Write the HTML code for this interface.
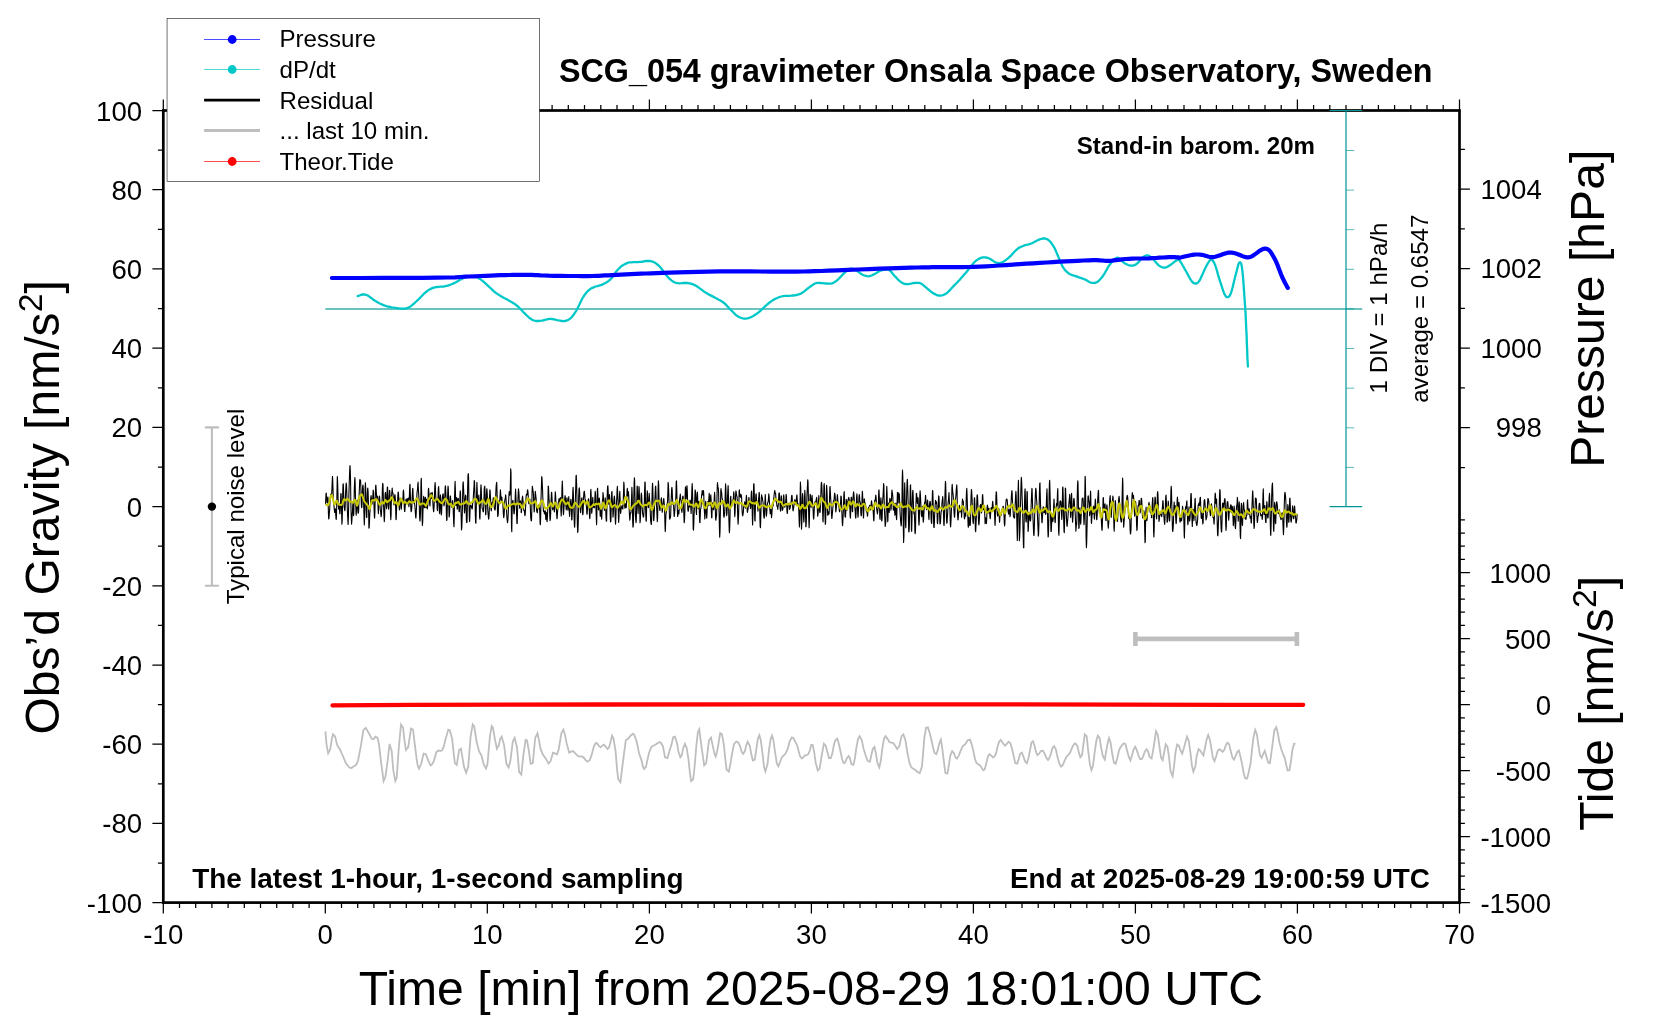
<!DOCTYPE html>
<html lang="en"><head><meta charset="utf-8"><title>SCG_054 gravimeter Onsala Space Observatory</title>
<style>html,body{margin:0;padding:0;background:#fff}svg{display:block;will-change:transform}text{font-family:"Liberation Sans",Arial,Helvetica,sans-serif;fill:#000}</style></head><body>
<svg width="1660" height="1020" viewBox="0 0 1660 1020">
<rect width="1660" height="1020" fill="#fff"/>
<rect x="163.3" y="110.5" width="1296.2" height="792.1" fill="none" stroke="#000" stroke-width="2.7"/>
<path d="M163.3 902.6v10.9M163.3 110.5v-10.9M179.5 902.6v5.4M179.5 110.5v-5.4M195.7 902.6v5.4M195.7 110.5v-5.4M211.9 902.6v5.4M211.9 110.5v-5.4M228.1 902.6v5.4M228.1 110.5v-5.4M244.3 902.6v5.4M244.3 110.5v-5.4M260.5 902.6v5.4M260.5 110.5v-5.4M276.7 902.6v5.4M276.7 110.5v-5.4M292.9 902.6v5.4M292.9 110.5v-5.4M309.1 902.6v5.4M309.1 110.5v-5.4M325.3 902.6v10.9M325.3 110.5v-10.9M341.5 902.6v5.4M341.5 110.5v-5.4M357.7 902.6v5.4M357.7 110.5v-5.4M373.9 902.6v5.4M373.9 110.5v-5.4M390.1 902.6v5.4M390.1 110.5v-5.4M406.3 902.6v5.4M406.3 110.5v-5.4M422.5 902.6v5.4M422.5 110.5v-5.4M438.7 902.6v5.4M438.7 110.5v-5.4M454.9 902.6v5.4M454.9 110.5v-5.4M471.1 902.6v5.4M471.1 110.5v-5.4M487.3 902.6v10.9M487.3 110.5v-10.9M503.5 902.6v5.4M503.5 110.5v-5.4M519.7 902.6v5.4M519.7 110.5v-5.4M535.9 902.6v5.4M535.9 110.5v-5.4M552.1 902.6v5.4M552.1 110.5v-5.4M568.3 902.6v5.4M568.3 110.5v-5.4M584.5 902.6v5.4M584.5 110.5v-5.4M600.8 902.6v5.4M600.8 110.5v-5.4M617.0 902.6v5.4M617.0 110.5v-5.4M633.2 902.6v5.4M633.2 110.5v-5.4M649.4 902.6v10.9M649.4 110.5v-10.9M665.6 902.6v5.4M665.6 110.5v-5.4M681.8 902.6v5.4M681.8 110.5v-5.4M698.0 902.6v5.4M698.0 110.5v-5.4M714.2 902.6v5.4M714.2 110.5v-5.4M730.4 902.6v5.4M730.4 110.5v-5.4M746.6 902.6v5.4M746.6 110.5v-5.4M762.8 902.6v5.4M762.8 110.5v-5.4M779.0 902.6v5.4M779.0 110.5v-5.4M795.2 902.6v5.4M795.2 110.5v-5.4M811.4 902.6v10.9M811.4 110.5v-10.9M827.6 902.6v5.4M827.6 110.5v-5.4M843.8 902.6v5.4M843.8 110.5v-5.4M860.0 902.6v5.4M860.0 110.5v-5.4M876.2 902.6v5.4M876.2 110.5v-5.4M892.4 902.6v5.4M892.4 110.5v-5.4M908.6 902.6v5.4M908.6 110.5v-5.4M924.8 902.6v5.4M924.8 110.5v-5.4M941.0 902.6v5.4M941.0 110.5v-5.4M957.2 902.6v5.4M957.2 110.5v-5.4M973.4 902.6v10.9M973.4 110.5v-10.9M989.6 902.6v5.4M989.6 110.5v-5.4M1005.8 902.6v5.4M1005.8 110.5v-5.4M1022.0 902.6v5.4M1022.0 110.5v-5.4M1038.2 902.6v5.4M1038.2 110.5v-5.4M1054.4 902.6v5.4M1054.4 110.5v-5.4M1070.6 902.6v5.4M1070.6 110.5v-5.4M1086.8 902.6v5.4M1086.8 110.5v-5.4M1103.0 902.6v5.4M1103.0 110.5v-5.4M1119.2 902.6v5.4M1119.2 110.5v-5.4M1135.4 902.6v10.9M1135.4 110.5v-10.9M1151.6 902.6v5.4M1151.6 110.5v-5.4M1167.8 902.6v5.4M1167.8 110.5v-5.4M1184.0 902.6v5.4M1184.0 110.5v-5.4M1200.2 902.6v5.4M1200.2 110.5v-5.4M1216.4 902.6v5.4M1216.4 110.5v-5.4M1232.6 902.6v5.4M1232.6 110.5v-5.4M1248.8 902.6v5.4M1248.8 110.5v-5.4M1265.0 902.6v5.4M1265.0 110.5v-5.4M1281.2 902.6v5.4M1281.2 110.5v-5.4M1297.4 902.6v10.9M1297.4 110.5v-10.9M1313.6 902.6v5.4M1313.6 110.5v-5.4M1329.8 902.6v5.4M1329.8 110.5v-5.4M1346.0 902.6v5.4M1346.0 110.5v-5.4M1362.2 902.6v5.4M1362.2 110.5v-5.4M1378.4 902.6v5.4M1378.4 110.5v-5.4M1394.6 902.6v5.4M1394.6 110.5v-5.4M1410.8 902.6v5.4M1410.8 110.5v-5.4M1427.0 902.6v5.4M1427.0 110.5v-5.4M1443.2 902.6v5.4M1443.2 110.5v-5.4M1459.5 902.6v10.9M1459.5 110.5v-10.9M163.3 902.6h-10.9M163.3 863.0h-5.4M163.3 823.4h-10.9M163.3 783.8h-5.4M163.3 744.2h-10.9M163.3 704.6h-5.4M163.3 665.0h-10.9M163.3 625.4h-5.4M163.3 585.8h-10.9M163.3 546.2h-5.4M163.3 506.6h-10.9M163.3 467.0h-5.4M163.3 427.4h-10.9M163.3 387.8h-5.4M163.3 348.1h-10.9M163.3 308.5h-5.4M163.3 268.9h-10.9M163.3 229.3h-5.4M163.3 189.7h-10.9M163.3 150.1h-5.4M163.3 110.5h-10.9M1459.5 467.5h5.4M1459.5 427.7h10.4M1459.5 387.9h5.4M1459.5 348.2h10.4M1459.5 308.4h5.4M1459.5 268.6h10.4M1459.5 228.8h5.4M1459.5 189.1h10.4M1459.5 149.3h5.4M1459.5 902.6h10.4M1459.5 889.4h5.4M1459.5 876.2h5.4M1459.5 863.0h5.4M1459.5 849.8h5.4M1459.5 836.6h10.4M1459.5 823.4h5.4M1459.5 810.2h5.4M1459.5 797.0h5.4M1459.5 783.8h5.4M1459.5 770.6h10.4M1459.5 757.4h5.4M1459.5 744.2h5.4M1459.5 731.0h5.4M1459.5 717.8h5.4M1459.5 704.6h10.4M1459.5 691.4h5.4M1459.5 678.2h5.4M1459.5 665.0h5.4M1459.5 651.8h5.4M1459.5 638.6h10.4M1459.5 625.4h5.4M1459.5 612.2h5.4M1459.5 599.0h5.4M1459.5 585.8h5.4M1459.5 572.6h10.4M1459.5 559.4h5.4M1459.5 546.2h5.4M1459.5 533.0h5.4M1459.5 519.8h5.4" stroke="#000" stroke-width="1.25" fill="none"/>
<g stroke="#009696" stroke-width="1.2" fill="none">
<path d="M325.3 309H1362.2" stroke-width="2" stroke="#69c3c3"/>
<path d="M1346 110.5V506.6M1329.6 110.5H1362.2M1329.6 506.6H1362.2"/>
<path d="M1346 467.4h8M1346 427.8h8M1346 388.2h8M1346 348.5h8M1346 308.9h8M1346 269.3h8M1346 229.7h8M1346 190.1h8M1346 150.5h8" stroke-width="0.65"/>
</g>
<path d="M357.7 296.1L358.4 295.9L359.3 295.5L360.5 295.1L361.6 294.7L362.7 294.5L363.6 294.5L364.5 294.5L365.4 294.7L366.5 295.0L367.7 295.5L369.0 296.4L370.5 297.5L372.1 298.7L373.8 300.0L375.6 301.1L377.5 302.2L379.4 303.2L381.5 304.2L383.5 305.1L385.5 305.9L387.6 306.5L389.6 306.9L391.6 307.3L393.6 307.6L395.5 307.9L397.2 308.1L398.9 308.4L400.5 308.6L402.0 308.7L403.4 308.7L404.7 308.6L405.9 308.4L407.0 308.2L408.1 307.7L409.4 307.1L410.9 306.1L412.4 304.9L414.1 303.5L415.7 302.0L417.3 300.5L419.0 298.9L420.6 297.2L422.3 295.5L423.8 293.9L425.3 292.6L426.6 291.5L427.8 290.6L429.0 289.8L430.1 289.2L431.3 288.6L432.4 288.1L433.6 287.7L434.7 287.5L435.9 287.2L437.2 287.0L438.7 286.8L440.3 286.7L441.9 286.6L443.6 286.5L445.2 286.2L446.8 285.8L448.4 285.4L450.0 284.9L451.5 284.3L453.1 283.6L454.8 282.8L456.4 281.9L458.0 280.9L459.6 280.0L461.1 279.2L462.4 278.6L463.6 278.0L464.7 277.4L465.8 277.0L467.0 276.7L468.4 276.4L469.8 276.2L471.2 276.0L472.6 276.1L474.0 276.3L475.4 276.6L476.7 277.2L478.1 277.8L479.5 278.7L481.0 279.6L482.5 280.8L484.1 282.2L485.7 283.6L487.3 285.1L488.9 286.6L490.4 288.0L491.9 289.4L493.4 290.8L495.0 292.2L496.9 293.6L499.1 295.0L501.5 296.4L504.1 297.9L506.6 299.2L508.8 300.5L510.6 301.6L512.3 302.5L513.8 303.4L515.2 304.3L516.7 305.5L518.4 306.9L520.0 308.6L521.7 310.3L523.2 312.0L524.7 313.4L526.0 314.7L527.2 315.9L528.4 317.0L529.5 318.0L530.7 318.8L531.8 319.5L533.0 320.1L534.1 320.5L535.3 320.8L536.6 321.0L538.1 321.0L539.8 320.8L541.4 320.6L543.1 320.3L544.6 320.0L545.9 319.7L547.0 319.4L548.1 319.1L549.3 318.9L550.5 318.8L552.0 319.0L553.7 319.3L555.4 319.7L557.0 320.1L558.5 320.4L559.8 320.6L561.0 320.9L562.2 321.0L563.3 321.1L564.5 321.0L565.7 320.8L566.8 320.4L568.0 320.0L569.2 319.3L570.4 318.4L571.6 317.2L572.8 315.8L574.0 314.2L575.2 312.4L576.4 310.5L577.6 308.3L578.8 305.8L580.0 303.2L581.2 300.7L582.3 298.5L583.5 296.6L584.7 294.8L585.9 293.2L587.1 291.8L588.3 290.6L589.5 289.6L590.6 288.8L591.7 288.1L593.0 287.6L594.3 287.0L595.7 286.5L597.3 286.1L599.0 285.7L600.6 285.2L602.2 284.6L603.9 283.8L605.5 282.9L607.1 282.0L608.7 280.9L610.2 279.6L611.5 278.2L612.7 276.6L613.9 274.9L615.0 273.2L616.1 271.7L617.3 270.3L618.5 269.0L619.7 267.8L620.9 266.7L622.1 265.7L623.4 264.9L624.7 264.2L626.0 263.6L627.1 263.1L628.1 262.7L628.6 262.5L628.7 262.4L628.8 262.4L629.2 262.4L630.0 262.3L631.5 262.3L633.5 262.2L635.7 262.1L638.0 262.1L639.9 261.9L641.7 261.8L643.4 261.5L644.9 261.2L646.5 261.0L647.9 261.0L649.2 261.0L650.4 261.1L651.6 261.3L652.7 261.7L653.9 262.1L655.0 262.8L656.2 263.6L657.4 264.5L658.6 265.5L659.8 266.7L661.0 268.1L662.2 269.7L663.4 271.5L664.6 273.2L665.8 274.7L667.0 276.0L668.2 277.4L669.4 278.6L670.6 279.7L671.7 280.6L672.9 281.4L673.9 282.0L675.0 282.5L676.3 282.9L677.7 283.2L679.5 283.3L681.5 283.2L683.6 283.0L685.7 282.9L687.7 283.0L689.3 283.3L690.9 283.6L692.4 284.1L693.9 284.8L695.6 285.6L697.5 286.7L699.4 288.1L701.5 289.7L703.5 291.2L705.5 292.6L707.6 293.7L709.6 294.9L711.6 295.9L713.6 296.9L715.5 297.9L717.2 298.8L718.8 299.7L720.3 300.5L721.9 301.4L723.4 302.5L725.1 303.9L726.7 305.6L728.3 307.3L729.9 309.0L731.4 310.5L732.7 311.8L733.9 313.0L735.0 314.1L736.1 315.1L737.3 316.0L738.7 316.8L740.1 317.5L741.5 318.0L742.9 318.4L744.3 318.6L745.7 318.6L747.0 318.4L748.4 318.1L749.8 317.6L751.3 317.0L752.8 316.2L754.4 315.3L756.0 314.2L757.6 313.1L759.2 311.8L760.8 310.5L762.4 309.0L764.0 307.4L765.6 305.9L767.2 304.5L768.8 303.2L770.3 302.0L771.9 300.9L773.5 299.8L775.1 298.9L776.7 298.2L778.2 297.5L779.7 297.0L781.4 296.5L783.1 296.1L785.0 295.9L787.0 295.8L789.1 295.8L791.1 295.7L793.0 295.5L794.7 295.3L796.3 295.0L797.9 294.7L799.4 294.2L801.0 293.6L802.6 292.6L804.2 291.4L805.8 290.1L807.4 288.7L808.9 287.6L810.4 286.5L811.8 285.5L813.1 284.6L814.5 283.8L815.9 283.2L817.2 282.9L818.6 282.9L820.0 283.0L821.4 283.1L822.8 283.2L824.4 283.3L826.0 283.5L827.7 283.7L829.3 283.7L830.8 283.6L832.1 283.3L833.2 282.9L834.3 282.3L835.5 281.6L836.7 280.6L838.2 279.3L839.9 277.6L841.6 275.8L843.2 274.1L844.7 272.7L846.0 271.5L847.2 270.5L848.4 269.7L849.5 269.1L850.7 268.7L851.9 268.7L853.0 269.0L854.2 269.5L855.4 270.1L856.6 270.7L857.8 271.4L859.0 272.3L860.2 273.2L861.4 274.0L862.6 274.7L863.8 275.2L865.0 275.7L866.2 276.0L867.4 276.2L868.6 276.3L869.7 276.1L870.9 275.7L872.1 275.2L873.3 274.6L874.5 274.1L875.7 273.4L876.8 272.7L878.0 271.9L879.2 271.2L880.5 270.7L882.0 270.2L883.6 269.8L885.3 269.5L886.9 269.4L888.4 269.7L889.8 270.4L891.0 271.6L892.1 272.9L893.2 274.4L894.4 275.7L895.6 276.9L896.8 278.2L898.0 279.5L899.2 280.7L900.4 281.6L901.5 282.4L902.7 283.1L903.8 283.6L905.0 284.0L906.3 284.2L907.8 284.2L909.5 283.9L911.1 283.6L912.8 283.2L914.3 283.0L915.6 282.9L916.8 282.8L918.0 282.8L919.1 282.9L920.2 283.2L921.4 283.8L922.6 284.6L923.8 285.6L925.0 286.6L926.2 287.6L927.4 288.6L928.5 289.6L929.7 290.7L930.9 291.7L932.2 292.6L933.5 293.4L934.9 294.1L936.3 294.8L937.7 295.3L939.1 295.5L940.5 295.6L941.9 295.4L943.2 295.0L944.6 294.4L946.1 293.6L947.7 292.3L949.4 290.6L951.1 288.8L952.7 287.0L954.0 285.6L955.0 284.6L955.7 284.0L956.3 283.4L957.0 282.7L958.0 281.6L959.3 280.2L960.8 278.5L962.5 276.6L964.2 274.6L965.9 272.7L967.5 270.7L969.2 268.5L970.8 266.4L972.4 264.4L973.9 262.7L975.2 261.5L976.4 260.4L977.6 259.6L978.7 258.9L979.8 258.4L980.9 257.9L981.9 257.6L982.8 257.4L983.8 257.4L984.8 257.4L985.8 257.5L986.7 257.6L987.6 257.9L988.6 258.3L989.8 258.8L991.0 259.5L992.4 260.4L993.9 261.4L995.4 262.2L996.7 262.7L998.0 263.0L999.1 263.1L1000.3 262.9L1001.4 262.6L1002.7 262.1L1004.0 261.4L1005.3 260.5L1006.7 259.3L1008.2 258.1L1009.6 256.8L1011.2 255.3L1012.8 253.6L1014.4 251.8L1016.0 250.2L1017.6 248.8L1019.0 247.8L1020.4 247.1L1021.8 246.5L1023.2 246.0L1024.5 245.4L1025.9 245.0L1027.3 244.6L1028.7 244.3L1030.1 243.9L1031.5 243.5L1032.9 242.8L1034.3 242.0L1035.8 241.2L1037.1 240.5L1038.5 239.9L1039.7 239.4L1041.0 239.0L1042.2 238.7L1043.3 238.5L1044.4 238.5L1045.5 238.7L1046.5 239.0L1047.5 239.4L1048.4 240.0L1049.4 240.9L1050.4 241.9L1051.4 243.2L1052.5 244.7L1053.4 246.2L1054.4 247.8L1055.2 249.5L1056.0 251.2L1056.7 253.0L1057.5 254.8L1058.3 256.8L1059.3 258.9L1060.2 261.2L1061.2 263.6L1062.2 265.8L1063.3 267.7L1064.4 269.3L1065.5 270.6L1066.7 271.7L1067.9 272.8L1069.3 273.7L1070.7 274.5L1072.3 275.1L1074.0 275.6L1075.6 276.1L1077.2 276.7L1078.9 277.3L1080.5 277.8L1082.1 278.4L1083.7 279.0L1085.2 279.6L1086.5 280.3L1087.7 281.0L1088.9 281.7L1090.0 282.3L1091.1 282.6L1092.3 282.8L1093.5 282.9L1094.7 282.8L1095.9 282.6L1097.1 282.0L1098.3 281.2L1099.5 280.1L1100.7 278.7L1101.9 277.3L1103.1 275.7L1104.3 273.9L1105.5 271.8L1106.7 269.7L1107.8 267.6L1109.0 265.7L1110.3 264.0L1111.5 262.4L1112.8 260.9L1113.9 259.7L1115.0 258.8L1115.9 258.2L1116.7 257.8L1117.4 257.7L1118.1 257.9L1119.0 258.2L1119.9 258.8L1120.8 259.7L1121.8 260.8L1122.8 261.8L1123.9 262.7L1125.2 263.5L1126.6 264.3L1128.1 265.0L1129.5 265.5L1130.9 265.7L1132.2 265.7L1133.4 265.5L1134.5 265.1L1135.7 264.5L1136.9 263.7L1138.1 262.7L1139.3 261.3L1140.5 259.8L1141.7 258.4L1142.8 257.4L1143.9 256.6L1144.9 256.0L1145.9 255.6L1146.8 255.4L1147.8 255.4L1148.8 255.7L1149.7 256.2L1150.7 256.9L1151.7 257.8L1152.8 258.8L1153.9 259.9L1155.1 261.4L1156.3 262.8L1157.5 264.2L1158.7 265.3L1159.9 266.2L1161.1 266.8L1162.3 267.3L1163.5 267.6L1164.7 267.7L1165.9 267.5L1167.1 267.0L1168.3 266.3L1169.5 265.5L1170.7 264.7L1171.9 263.9L1173.2 262.8L1174.4 261.8L1175.6 260.9L1176.6 260.4L1177.4 260.0L1178.0 259.8L1178.6 259.8L1179.2 260.2L1180.0 261.1L1181.1 262.6L1182.3 264.7L1183.7 267.1L1185.0 269.5L1186.3 271.8L1187.4 273.8L1188.6 276.0L1189.7 278.0L1190.8 279.8L1191.8 281.2L1192.6 282.2L1193.4 282.9L1194.2 283.3L1194.9 283.5L1195.7 283.5L1196.4 283.4L1197.2 283.1L1197.9 282.5L1198.7 281.7L1199.6 280.4L1200.6 278.5L1201.7 276.1L1202.9 273.5L1204.0 270.9L1205.1 268.6L1206.1 266.6L1207.1 264.7L1208.1 263.0L1209.0 261.5L1209.8 260.5L1210.4 259.8L1210.9 259.4L1211.3 259.4L1211.7 259.6L1212.2 260.0L1212.7 260.5L1213.3 261.3L1213.9 262.3L1214.5 263.6L1215.3 265.5L1216.1 268.0L1217.1 271.1L1218.0 274.6L1219.0 278.0L1220.0 281.2L1221.0 284.2L1222.0 287.2L1222.9 290.0L1223.9 292.6L1224.7 294.5L1225.4 295.8L1226.1 296.7L1226.7 297.1L1227.2 297.2L1227.8 297.2L1228.5 296.9L1229.1 296.5L1229.7 295.7L1230.3 294.6L1231.0 292.9L1231.7 290.6L1232.5 287.7L1233.3 284.4L1234.1 281.1L1234.9 278.0L1235.6 275.1L1236.4 272.1L1237.1 269.2L1237.8 266.6L1238.3 264.7L1238.8 263.4L1239.2 262.7L1239.5 262.4L1239.8 262.3L1240.1 262.3L1240.4 262.5L1240.7 262.8L1241.0 263.3L1241.3 264.2L1241.6 265.5L1241.9 267.3L1242.2 269.6L1242.5 272.2L1242.8 275.1L1243.1 278.0L1243.3 281.2L1243.6 284.5L1243.8 288.0L1244.1 291.7L1244.3 295.3L1244.6 298.9L1244.8 302.5L1245.1 306.2L1245.3 310.0L1245.6 314.1L1245.8 318.6L1246.0 323.3L1246.2 328.2L1246.5 333.1L1246.7 337.6L1246.8 342.1L1247.0 346.6L1247.2 350.9L1247.3 354.7L1247.4 358.0L1247.6 360.6L1247.7 362.7L1247.8 364.4L1247.9 365.7L1247.9 366.6" fill="none" stroke="#00c8c8" stroke-width="2.3" stroke-linejoin="round" stroke-linecap="round"/>
<path d="M331.9 278.0L344.1 278.0L361.7 278.0L382.2 277.9L403.2 277.9L422.4 277.8L437.2 277.7L447.5 277.5L455.1 277.3L460.8 277.0L465.5 276.7L469.9 276.5L475.0 276.3L480.5 276.0L485.7 275.8L490.8 275.6L495.6 275.4L500.3 275.2L504.8 275.1L509.2 275.0L513.4 274.9L517.4 274.8L521.2 274.8L525.0 274.8L528.7 274.9L532.0 274.9L534.9 275.1L537.6 275.2L540.6 275.4L544.1 275.5L548.6 275.7L554.3 275.8L561.1 275.9L568.4 276.0L575.8 276.0L582.6 276.1L588.3 276.1L592.7 276.0L596.1 275.9L599.0 275.8L601.7 275.6L604.6 275.4L608.2 275.3L612.3 275.1L616.7 274.8L621.2 274.6L626.0 274.3L631.0 274.1L636.0 273.9L641.0 273.7L645.9 273.5L650.9 273.3L656.4 273.1L662.6 272.9L669.8 272.7L678.2 272.4L687.7 272.2L698.0 271.9L708.6 271.6L719.2 271.4L729.4 271.3L739.6 271.3L750.0 271.3L760.5 271.5L770.6 271.6L780.2 271.7L789.0 271.7L796.6 271.6L803.0 271.5L808.9 271.4L814.8 271.2L821.2 271.0L828.8 270.7L837.8 270.4L847.9 269.9L858.6 269.5L869.3 269.1L879.4 268.6L888.4 268.3L896.4 268.1L903.9 267.8L910.8 267.7L917.1 267.5L922.9 267.4L928.2 267.3L932.5 267.2L935.9 267.2L938.6 267.2L941.3 267.2L944.3 267.1L948.1 267.1L952.6 267.1L957.5 267.1L962.7 267.1L968.2 267.0L973.9 266.9L979.8 266.7L986.0 266.4L992.5 266.0L999.2 265.5L1006.0 265.1L1012.9 264.6L1019.6 264.1L1026.3 263.7L1033.1 263.3L1039.8 262.9L1046.5 262.5L1053.1 262.1L1059.3 261.7L1065.5 261.4L1071.7 261.1L1077.7 260.8L1083.4 260.5L1088.6 260.3L1093.1 260.2L1096.8 260.2L1099.6 260.3L1102.0 260.5L1104.1 260.7L1106.4 260.8L1109.0 260.8L1112.1 260.6L1115.4 260.2L1118.7 259.8L1122.1 259.4L1125.6 259.0L1128.9 258.8L1132.2 258.6L1135.5 258.5L1138.9 258.5L1142.2 258.5L1145.5 258.5L1148.8 258.4L1152.2 258.2L1155.8 258.0L1159.4 257.7L1162.8 257.5L1165.9 257.3L1168.7 257.2L1171.0 257.1L1173.0 257.1L1174.8 257.2L1176.3 257.3L1177.6 257.3L1178.6 257.4L1179.2 257.5L1179.3 257.6L1179.1 257.7L1179.0 257.8L1179.2 257.8L1180.0 257.6L1181.5 257.3L1183.5 256.8L1185.8 256.2L1188.2 255.7L1190.5 255.2L1192.5 254.8L1194.3 254.6L1195.9 254.5L1197.4 254.5L1198.8 254.5L1200.3 254.7L1202.0 254.8L1203.7 255.2L1205.4 255.7L1207.2 256.3L1209.0 256.8L1210.9 257.1L1212.9 257.2L1215.2 256.8L1217.6 256.1L1220.2 255.2L1222.7 254.3L1225.0 253.5L1227.1 252.9L1228.7 252.7L1230.0 252.6L1231.2 252.6L1232.3 252.7L1233.5 252.9L1234.9 253.3L1236.6 253.8L1238.5 254.5L1240.5 255.3L1242.4 256.1L1244.3 256.8L1245.9 257.2L1247.2 257.3L1248.3 257.3L1249.2 257.2L1250.1 257.0L1251.1 256.6L1252.1 256.1L1253.4 255.4L1254.8 254.4L1256.2 253.4L1257.6 252.3L1258.8 251.3L1260.0 250.6L1261.0 250.0L1261.8 249.6L1262.5 249.2L1263.2 248.9L1263.9 248.8L1264.7 248.7L1265.5 248.7L1266.2 248.7L1266.9 248.9L1267.7 249.2L1268.5 249.7L1269.4 250.6L1270.4 251.7L1271.4 253.2L1272.4 254.8L1273.5 256.7L1274.6 258.7L1275.7 260.8L1276.7 263.1L1277.8 265.8L1278.8 268.5L1279.9 271.3L1280.9 274.0L1281.9 276.5L1283.0 278.7L1284.1 281.0L1285.2 283.2L1286.3 285.1L1287.1 286.7L1287.8 287.9" fill="none" stroke="#0000ff" stroke-width="4.2" stroke-linejoin="round" stroke-linecap="round"/>
<path d="M325.5 504.2L325.7 500.5L326.0 493.8L326.3 493.1L326.5 497.2L326.8 500.3L327.1 502.6L327.3 501.0L327.6 497.8L327.9 497.0L328.2 501.9L328.4 513.0L328.7 519.0L329.0 518.3L329.2 515.1L329.5 511.4L329.8 507.0L330.0 501.3L330.3 498.2L330.6 494.7L330.9 494.2L331.1 496.9L331.4 495.6L331.7 493.6L331.9 489.9L332.2 481.8L332.5 476.3L332.7 479.3L333.0 488.9L333.3 498.9L333.6 503.8L333.8 504.6L334.1 506.9L334.4 510.5L334.6 512.4L334.9 512.3L335.2 509.7L335.4 508.7L335.7 513.7L336.0 519.0L336.3 519.3L336.5 514.4L336.8 502.0L337.1 485.1L337.3 476.5L337.6 481.3L337.9 491.1L338.1 499.9L338.4 506.4L338.7 509.2L339.0 505.4L339.2 503.7L339.5 509.6L339.8 513.8L340.0 513.6L340.3 508.8L340.6 500.1L340.8 493.6L341.1 493.7L341.4 503.6L341.7 516.8L341.9 524.2L342.2 520.5L342.5 507.8L342.7 493.7L343.0 484.3L343.3 483.9L343.5 489.1L343.8 498.0L344.1 506.4L344.4 508.3L344.6 509.6L344.9 510.8L345.2 506.3L345.4 498.2L345.7 491.0L346.0 485.8L346.2 483.0L346.5 484.8L346.8 492.8L347.1 502.1L347.3 509.0L347.6 515.3L347.9 522.0L348.1 524.5L348.4 517.0L348.7 504.2L348.9 494.3L349.2 485.0L349.5 475.2L349.8 467.6L350.0 465.6L350.3 470.6L350.6 482.5L350.8 500.1L351.1 512.9L351.4 520.5L351.6 524.3L351.9 520.4L352.2 514.9L352.5 511.0L352.7 506.0L353.0 502.1L353.3 506.7L353.5 515.7L353.8 513.8L354.1 500.1L354.3 488.4L354.6 481.1L354.9 477.5L355.2 483.7L355.4 494.1L355.7 503.8L356.0 513.1L356.2 515.2L356.5 510.0L356.8 506.2L357.0 502.6L357.3 500.0L357.6 505.3L357.9 512.0L358.1 513.2L358.4 513.0L358.7 510.5L358.9 502.8L359.2 493.5L359.5 486.3L359.7 480.3L360.0 479.4L360.3 480.8L360.6 480.4L360.8 485.4L361.1 497.2L361.4 505.9L361.6 507.7L361.9 506.9L362.2 500.1L362.4 489.9L362.7 486.1L363.0 485.0L363.3 488.5L363.5 498.2L363.8 508.9L364.1 519.2L364.3 524.9L364.6 517.4L364.9 501.1L365.1 488.2L365.4 482.7L365.7 487.8L366.0 499.6L366.2 510.3L366.5 517.3L366.8 517.5L367.0 508.1L367.3 495.4L367.6 488.6L367.8 488.1L368.1 491.8L368.4 501.6L368.7 516.6L368.9 528.1L369.2 527.6L369.5 521.9L369.7 515.8L370.0 511.0L370.3 508.6L370.5 503.5L370.8 497.3L371.1 495.5L371.4 498.6L371.6 502.1L371.9 504.3L372.2 503.7L372.4 501.0L372.7 497.7L373.0 493.6L373.2 490.1L373.5 492.4L373.8 500.2L374.1 508.3L374.3 515.7L374.6 518.3L374.9 512.4L375.1 502.5L375.4 492.7L375.7 485.3L375.9 485.1L376.2 490.2L376.5 495.2L376.8 498.7L377.0 500.2L377.3 498.5L377.6 496.0L377.8 498.4L378.1 508.7L378.4 513.6L378.6 507.0L378.9 501.9L379.2 499.1L379.5 496.0L379.7 498.3L380.0 505.6L380.3 510.3L380.5 510.8L380.8 513.5L381.1 516.7L381.4 514.8L381.6 510.5L381.9 505.3L382.2 496.3L382.4 487.2L382.7 483.4L383.0 484.2L383.2 491.9L383.5 503.6L383.8 511.7L384.1 518.3L384.3 521.7L384.6 516.6L384.9 504.9L385.1 494.6L385.4 492.2L385.7 493.9L385.9 498.7L386.2 505.6L386.5 508.8L386.8 505.5L387.0 495.8L387.3 487.1L387.6 487.1L387.8 494.3L388.1 503.1L388.4 507.9L388.6 509.1L388.9 505.3L389.2 496.3L389.5 490.3L389.7 490.6L390.0 494.7L390.3 504.0L390.5 514.1L390.8 519.8L391.1 514.9L391.3 503.0L391.6 496.2L391.9 491.4L392.2 488.0L392.4 491.0L392.7 493.1L393.0 493.0L393.2 495.5L393.5 499.3L393.8 502.7L394.0 504.9L394.3 502.6L394.6 496.9L394.9 494.5L395.1 495.7L395.4 500.3L395.7 509.9L395.9 519.2L396.2 519.6L396.5 511.6L396.7 505.4L397.0 503.9L397.3 503.3L397.6 501.0L397.8 496.1L398.1 492.1L398.4 492.3L398.6 495.4L398.9 501.4L399.2 507.6L399.4 510.0L399.7 505.9L400.0 500.0L400.3 498.1L400.5 498.7L400.8 502.4L401.1 508.8L401.3 509.3L401.6 504.6L401.9 502.1L402.1 501.3L402.4 501.5L402.7 500.5L403.0 496.8L403.2 491.5L403.5 490.0L403.8 494.1L404.0 500.8L404.3 507.5L404.6 511.4L404.8 511.4L405.1 507.6L405.4 503.7L405.7 501.8L405.9 499.7L406.2 499.0L406.5 501.9L406.7 503.6L407.0 500.4L407.3 498.8L407.5 501.5L407.8 502.1L408.1 498.6L408.4 498.0L408.6 503.1L408.9 506.8L409.2 503.9L409.4 494.8L409.7 485.8L410.0 484.2L410.2 489.3L410.5 498.8L410.8 507.9L411.1 511.7L411.3 511.4L411.6 510.2L411.9 506.1L412.1 498.7L412.4 492.8L412.7 488.2L412.9 488.9L413.2 496.9L413.5 502.5L413.8 503.0L414.0 500.9L414.3 500.6L414.6 503.1L414.8 505.1L415.1 508.9L415.4 513.8L415.6 516.7L415.9 518.2L416.2 513.9L416.5 506.9L416.7 501.4L417.0 493.1L417.3 490.3L417.5 490.0L417.8 484.3L418.1 482.1L418.3 487.2L418.6 493.0L418.9 497.3L419.2 502.2L419.4 510.6L419.7 518.7L420.0 521.2L420.2 518.9L420.5 511.9L420.8 497.2L421.0 480.8L421.3 478.2L421.6 491.0L421.9 505.4L422.1 518.0L422.4 525.4L422.7 522.2L422.9 513.4L423.2 505.0L423.5 498.6L423.7 496.2L424.0 501.5L424.3 507.8L424.6 507.3L424.8 502.7L425.1 497.8L425.4 497.2L425.6 504.0L425.9 507.6L426.2 502.8L426.4 499.1L426.7 501.9L427.0 507.5L427.3 509.0L427.5 507.6L427.8 505.5L428.1 499.1L428.3 490.1L428.6 488.2L428.9 492.6L429.1 494.6L429.4 497.7L429.7 503.9L430.0 505.9L430.2 500.9L430.5 494.7L430.8 493.0L431.0 494.5L431.3 497.2L431.6 498.6L431.8 495.3L432.1 492.4L432.4 493.7L432.7 497.3L432.9 503.1L433.2 508.2L433.5 510.7L433.7 511.8L434.0 507.9L434.3 501.3L434.5 495.1L434.8 486.6L435.1 482.5L435.4 487.0L435.6 493.8L435.9 498.9L436.2 502.3L436.4 501.6L436.7 499.6L437.0 503.1L437.2 509.4L437.5 510.6L437.8 504.8L438.1 495.8L438.3 488.6L438.6 486.6L438.9 491.0L439.1 502.0L439.4 512.6L439.7 513.6L439.9 506.7L440.2 497.3L440.5 494.8L440.8 501.3L441.0 509.9L441.3 514.9L441.6 513.1L441.8 507.4L442.1 501.9L442.4 497.6L442.6 496.1L442.9 494.1L443.2 493.8L443.5 498.0L443.7 503.5L444.0 506.0L444.3 504.1L444.5 501.9L444.8 496.2L445.1 488.7L445.3 485.7L445.6 487.7L445.9 493.9L446.2 504.0L446.4 515.0L446.7 520.5L447.0 519.5L447.2 512.2L447.5 500.8L447.8 491.2L448.0 486.1L448.3 488.2L448.6 497.7L448.9 510.5L449.1 517.0L449.4 515.9L449.7 510.9L449.9 502.0L450.2 496.0L450.5 496.1L450.7 499.0L451.0 502.5L451.3 504.8L451.6 506.2L451.8 507.5L452.1 507.3L452.4 503.3L452.6 500.5L452.9 503.9L453.2 509.3L453.4 515.2L453.7 523.6L454.0 526.7L454.3 516.1L454.5 500.1L454.8 487.5L455.1 481.2L455.3 486.8L455.6 498.0L455.9 505.5L456.1 505.1L456.4 499.2L456.7 497.5L457.0 502.5L457.2 509.3L457.5 507.3L457.8 500.4L458.0 498.5L458.3 498.4L458.6 501.1L458.8 507.4L459.1 511.6L459.4 511.7L459.7 506.1L459.9 496.4L460.2 490.8L460.5 492.7L460.7 499.6L461.0 510.4L461.3 522.4L461.5 529.9L461.8 527.7L462.1 519.1L462.4 509.6L462.6 496.4L462.9 483.9L463.2 481.8L463.4 485.4L463.7 491.0L464.0 498.8L464.2 506.8L464.5 512.9L464.8 509.9L465.1 500.9L465.3 496.8L465.6 495.1L465.9 496.7L466.1 508.5L466.4 520.0L466.7 522.6L467.0 522.5L467.2 514.9L467.5 496.6L467.8 481.5L468.0 475.2L468.3 473.5L468.6 478.3L468.8 492.5L469.1 508.8L469.4 519.6L469.7 521.6L469.9 514.7L470.2 507.2L470.5 505.3L470.7 505.8L471.0 505.1L471.3 505.9L471.5 507.5L471.8 508.0L472.1 509.0L472.4 508.0L472.6 503.7L472.9 502.3L473.2 500.5L473.4 495.2L473.7 491.4L474.0 486.6L474.2 480.5L474.5 481.2L474.8 490.9L475.1 502.3L475.3 513.8L475.6 522.7L475.9 523.2L476.1 516.0L476.4 503.1L476.7 488.2L476.9 482.2L477.2 489.4L477.5 499.5L477.8 503.1L478.0 502.3L478.3 500.8L478.6 497.8L478.8 495.0L479.1 499.6L479.4 509.3L479.6 516.9L479.9 519.2L480.2 512.2L480.5 500.0L480.7 489.2L481.0 484.8L481.3 489.8L481.5 496.6L481.8 502.5L482.1 508.1L482.3 508.7L482.6 508.7L482.9 510.6L483.2 511.9L483.4 511.7L483.7 507.2L484.0 497.4L484.2 489.0L484.5 486.7L484.8 486.2L485.0 491.5L485.3 504.8L485.6 514.7L485.9 514.3L486.1 506.0L486.4 495.8L486.7 489.2L486.9 488.8L487.2 493.0L487.5 500.9L487.7 508.6L488.0 512.6L488.3 516.1L488.6 519.1L488.8 518.7L489.1 515.3L489.4 506.4L489.6 495.3L489.9 489.7L490.2 491.4L490.4 496.4L490.7 502.1L491.0 508.9L491.3 510.9L491.5 507.8L491.8 504.8L492.1 502.3L492.3 503.0L492.6 505.0L492.9 502.3L493.1 498.6L493.4 497.8L493.7 499.5L494.0 503.3L494.2 506.9L494.5 508.9L494.8 509.5L495.0 510.2L495.3 508.9L495.6 502.6L495.8 493.2L496.1 486.5L496.4 483.8L496.7 482.3L496.9 486.5L497.2 498.8L497.5 511.6L497.7 516.5L498.0 515.8L498.3 513.4L498.5 506.9L498.8 502.9L499.1 504.0L499.4 502.7L499.6 501.1L499.9 499.0L500.2 492.9L500.4 489.8L500.7 493.8L501.0 498.8L501.2 500.5L501.5 498.6L501.8 497.0L502.1 500.4L502.3 502.8L502.6 502.3L502.9 504.5L503.1 508.9L503.4 514.5L503.7 517.6L503.9 517.0L504.2 514.1L504.5 506.3L504.8 499.6L505.0 499.3L505.3 498.5L505.6 494.9L505.8 495.6L506.1 500.2L506.4 504.4L506.6 511.9L506.9 517.9L507.2 520.1L507.5 522.7L507.7 522.3L508.0 518.6L508.3 512.5L508.5 505.0L508.8 497.8L509.1 492.9L509.3 491.6L509.6 493.5L509.9 495.3L510.2 492.1L510.4 482.4L510.7 468.9L511.0 472.1L511.2 500.1L511.5 527.8L511.8 531.7L512.0 518.3L512.3 506.4L512.6 501.3L512.9 500.2L513.1 501.7L513.4 505.1L513.7 509.7L513.9 513.4L514.2 513.9L514.5 510.0L514.7 505.4L515.0 502.3L515.3 494.7L515.6 489.0L515.8 493.7L516.1 501.0L516.4 507.5L516.6 515.3L516.9 523.5L517.2 523.6L517.4 515.4L517.7 507.1L518.0 498.3L518.3 491.0L518.5 488.7L518.8 491.2L519.1 495.7L519.3 502.7L519.6 508.2L519.9 507.2L520.1 503.5L520.4 500.8L520.7 501.6L521.0 506.6L521.2 512.6L521.5 512.2L521.8 505.5L522.0 500.7L522.3 497.3L522.6 496.1L522.8 498.7L523.1 501.3L523.4 505.2L523.7 509.5L523.9 510.8L524.2 510.3L524.5 511.0L524.7 514.7L525.0 515.8L525.3 513.5L525.5 509.5L525.8 502.4L526.1 496.3L526.4 494.3L526.6 494.6L526.9 495.1L527.2 493.6L527.4 490.3L527.7 489.8L528.0 492.2L528.2 495.4L528.5 500.8L528.8 503.8L529.1 503.1L529.3 502.4L529.6 500.8L529.9 499.0L530.1 501.4L530.4 509.7L530.7 517.4L530.9 519.1L531.2 520.9L531.5 520.8L531.8 510.7L532.0 494.9L532.3 486.2L532.6 487.6L532.8 489.8L533.1 491.0L533.4 493.5L533.6 498.9L533.9 507.2L534.2 511.9L534.5 509.1L534.7 502.7L535.0 495.6L535.3 491.3L535.5 492.9L535.8 495.9L536.1 498.3L536.3 503.9L536.6 510.1L536.9 511.9L537.2 512.6L537.4 512.7L537.7 509.1L538.0 508.2L538.2 508.5L538.5 506.1L538.8 505.0L539.0 505.5L539.3 505.8L539.6 508.9L539.9 516.6L540.1 523.8L540.4 524.8L540.7 516.4L540.9 503.5L541.2 492.8L541.5 483.7L541.7 476.6L542.0 477.6L542.3 484.6L542.6 490.8L542.8 497.1L543.1 504.7L543.4 510.8L543.6 511.5L543.9 510.4L544.2 511.9L544.4 513.9L544.7 513.4L545.0 511.7L545.3 510.8L545.5 514.2L545.8 519.4L546.1 517.1L546.3 512.3L546.6 515.3L546.9 521.1L547.1 521.7L547.4 517.6L547.7 510.8L548.0 498.2L548.2 486.1L548.5 486.7L548.8 493.9L549.0 498.2L549.3 503.0L549.6 510.5L549.8 517.1L550.1 520.7L550.4 519.0L550.7 512.5L550.9 505.3L551.2 497.9L551.5 492.3L551.7 492.4L552.0 497.9L552.3 505.0L552.6 509.6L552.8 509.3L553.1 506.6L553.4 504.7L553.6 504.4L553.9 507.5L554.2 511.0L554.4 512.0L554.7 508.2L555.0 498.8L555.3 491.8L555.5 493.3L555.8 499.2L556.1 504.5L556.3 508.2L556.6 513.2L556.9 518.3L557.1 518.8L557.4 514.8L557.7 510.0L558.0 505.5L558.2 502.9L558.5 502.2L558.8 500.5L559.0 498.6L559.3 499.3L559.6 502.2L559.8 502.0L560.1 499.1L560.4 497.6L560.7 500.8L560.9 510.8L561.2 515.9L561.5 509.9L561.7 499.6L562.0 488.1L562.3 481.1L562.5 485.2L562.8 497.5L563.1 509.5L563.4 514.7L563.6 513.8L563.9 509.0L564.2 503.8L564.4 501.3L564.7 499.0L565.0 495.8L565.2 495.7L565.5 499.7L565.8 504.0L566.1 508.5L566.3 509.9L566.6 503.6L566.9 497.7L567.1 498.5L567.4 503.0L567.7 508.3L567.9 510.1L568.2 505.6L568.5 499.2L568.8 496.6L569.0 502.2L569.3 512.5L569.6 516.4L569.8 513.8L570.1 509.7L570.4 505.2L570.6 501.2L570.9 499.2L571.2 502.1L571.5 511.1L571.7 519.9L572.0 519.4L572.3 510.9L572.5 500.9L572.8 491.6L573.1 487.2L573.3 491.8L573.6 502.5L573.9 512.6L574.2 519.7L574.4 525.8L574.7 527.3L575.0 519.1L575.2 505.8L575.5 495.1L575.8 485.3L576.0 476.0L576.3 475.3L576.6 482.9L576.9 495.2L577.1 511.9L577.4 526.0L577.7 532.4L577.9 531.7L578.2 525.2L578.5 512.0L578.7 497.1L579.0 489.4L579.3 487.8L579.6 491.5L579.8 497.0L580.1 503.6L580.4 511.0L580.6 512.7L580.9 509.0L581.2 504.9L581.4 501.4L581.7 498.0L582.0 497.9L582.3 504.6L582.5 512.7L582.8 514.8L583.1 513.0L583.3 506.6L583.6 497.1L583.9 492.5L584.1 491.5L584.4 491.3L584.7 494.6L585.0 498.4L585.2 499.7L585.5 500.1L585.8 502.1L586.0 504.7L586.3 505.8L586.6 508.6L586.8 513.8L587.1 514.2L587.4 510.2L587.7 506.8L587.9 503.4L588.2 499.8L588.5 498.7L588.7 499.5L589.0 503.4L589.3 510.1L589.5 516.1L589.8 518.8L590.1 515.0L590.4 503.9L590.6 492.4L590.9 489.4L591.2 496.3L591.4 507.2L591.7 513.3L592.0 511.2L592.2 506.5L592.5 500.5L592.8 497.4L593.1 503.3L593.3 507.2L593.6 505.3L593.9 505.3L594.1 507.9L594.4 507.7L594.7 503.8L594.9 497.2L595.2 491.4L595.5 493.7L595.8 501.9L596.0 510.1L596.3 518.7L596.6 524.8L596.8 518.6L597.1 501.5L597.4 488.8L597.6 488.2L597.9 495.0L598.2 504.3L598.5 509.9L598.7 507.9L599.0 502.0L599.3 498.1L599.5 499.4L599.8 506.9L600.1 514.3L600.3 516.4L600.6 513.7L600.9 510.1L601.2 510.5L601.4 515.8L601.7 519.3L602.0 512.9L602.2 503.7L602.5 500.4L602.8 497.8L603.0 492.6L603.3 495.2L603.6 502.7L603.9 505.5L604.1 508.0L604.4 510.5L604.7 508.3L604.9 501.6L605.2 497.7L605.5 500.5L605.7 508.6L606.0 516.7L606.3 521.1L606.6 521.2L606.8 512.4L607.1 498.9L607.4 490.1L607.6 486.3L607.9 485.8L608.2 491.4L608.4 500.3L608.7 504.3L609.0 500.7L609.3 496.2L609.5 494.5L609.8 499.3L610.1 510.9L610.3 519.0L610.6 522.0L610.9 521.1L611.1 513.0L611.4 500.7L611.7 491.7L612.0 491.6L612.2 497.8L612.5 504.0L612.8 510.7L613.0 517.2L613.3 514.5L613.6 505.9L613.8 501.1L614.1 498.1L614.4 496.0L614.7 499.7L614.9 508.7L615.2 518.3L615.5 524.2L615.7 522.5L616.0 514.0L616.3 505.8L616.5 502.1L616.8 497.5L617.1 489.5L617.4 486.3L617.6 490.9L617.9 498.5L618.2 507.3L618.4 517.3L618.7 522.4L619.0 517.0L619.2 505.8L619.5 495.0L619.8 491.2L620.1 498.7L620.3 509.7L620.6 513.4L620.9 511.5L621.1 508.9L621.4 508.0L621.7 506.4L621.9 505.7L622.2 507.1L622.5 508.3L622.8 509.1L623.0 506.2L623.3 499.5L623.6 490.0L623.8 482.1L624.1 484.8L624.4 495.9L624.6 505.1L624.9 508.2L625.2 506.9L625.5 503.9L625.7 504.2L626.0 507.6L626.3 507.6L626.5 503.0L626.8 496.2L627.1 489.9L627.3 488.3L627.6 492.9L627.9 496.0L628.2 493.8L628.4 491.6L628.7 495.2L629.0 502.8L629.2 510.1L629.5 516.0L629.8 520.1L630.0 519.1L630.3 514.6L630.6 512.5L630.9 513.2L631.1 510.4L631.4 503.0L631.7 493.4L631.9 487.3L632.2 494.7L632.5 511.1L632.7 522.8L633.0 527.2L633.3 526.1L633.6 514.3L633.8 496.4L634.1 484.1L634.4 477.7L634.6 479.9L634.9 493.1L635.2 507.0L635.4 514.8L635.7 519.3L636.0 522.6L636.3 519.9L636.5 511.5L636.8 499.1L637.1 486.0L637.3 486.5L637.6 498.0L637.9 508.9L638.1 513.6L638.4 505.8L638.7 492.8L639.0 486.6L639.2 488.8L639.5 498.9L639.8 513.9L640.0 522.7L640.3 520.9L640.6 513.6L640.9 503.2L641.1 495.3L641.4 493.0L641.7 495.9L641.9 501.8L642.2 507.9L642.5 512.2L642.7 513.8L643.0 515.5L643.3 517.1L643.6 516.9L643.8 514.6L644.1 508.9L644.4 500.1L644.6 490.5L644.9 482.0L645.2 482.3L645.4 496.7L645.7 512.6L646.0 520.6L646.3 521.3L646.5 513.5L646.8 501.8L647.1 493.0L647.3 490.8L647.6 497.4L647.9 503.9L648.1 506.3L648.4 507.6L648.7 504.2L649.0 496.6L649.2 493.3L649.5 498.2L649.8 502.5L650.0 504.7L650.3 513.0L650.6 520.2L650.8 521.8L651.1 524.2L651.4 524.4L651.7 516.9L651.9 503.0L652.2 489.7L652.5 483.2L652.7 484.6L653.0 494.7L653.3 509.5L653.5 519.3L653.8 520.8L654.1 516.5L654.4 510.3L654.6 504.1L654.9 498.6L655.2 493.9L655.4 487.3L655.7 486.0L656.0 493.2L656.2 501.3L656.5 506.0L656.8 510.7L657.1 517.7L657.3 521.6L657.6 518.1L657.9 505.2L658.1 488.6L658.4 480.8L658.7 484.5L658.9 494.3L659.2 502.7L659.5 507.5L659.8 510.5L660.0 510.5L660.3 506.9L660.6 504.0L660.8 502.0L661.1 499.5L661.4 497.9L661.6 501.0L661.9 508.2L662.2 512.3L662.5 510.7L662.7 506.2L663.0 503.7L663.3 502.1L663.5 499.0L663.8 498.5L664.1 501.8L664.3 504.6L664.6 510.2L664.9 522.3L665.2 531.6L665.4 529.8L665.7 520.7L666.0 513.9L666.2 512.6L666.5 511.5L666.8 507.3L667.0 504.0L667.3 503.9L667.6 500.4L667.9 490.0L668.1 482.3L668.4 484.3L668.7 490.8L668.9 498.0L669.2 508.4L669.5 517.7L669.7 519.3L670.0 518.1L670.3 517.8L670.6 516.5L670.8 510.8L671.1 501.8L671.4 494.7L671.6 489.4L671.9 487.2L672.2 490.2L672.4 496.2L672.7 501.3L673.0 504.6L673.3 504.9L673.5 504.9L673.8 510.2L674.1 516.0L674.3 516.5L674.6 513.3L674.9 509.2L675.1 504.5L675.4 502.1L675.7 500.1L676.0 491.9L676.2 482.0L676.5 480.9L676.8 489.7L677.0 499.4L677.3 508.5L677.6 516.4L677.8 516.0L678.1 511.0L678.4 510.6L678.7 513.9L678.9 513.6L679.2 508.1L679.5 501.7L679.7 498.6L680.0 496.5L680.3 494.1L680.5 496.5L680.8 499.7L681.1 500.4L681.4 504.4L681.6 510.1L681.9 512.4L682.2 509.1L682.4 501.3L682.7 496.6L683.0 496.1L683.2 497.0L683.5 503.5L683.8 513.3L684.1 521.4L684.3 522.8L684.6 518.7L684.9 510.8L685.1 496.2L685.4 486.9L685.7 490.6L685.9 497.2L686.2 499.0L686.5 493.7L686.8 486.5L687.0 485.7L687.3 490.9L687.6 501.5L687.8 509.5L688.1 511.3L688.4 511.0L688.6 508.5L688.9 505.8L689.2 505.8L689.5 506.9L689.7 503.8L690.0 500.0L690.3 500.7L690.5 502.6L690.8 508.1L691.1 513.5L691.3 509.2L691.6 498.6L691.9 488.3L692.2 483.5L692.4 487.9L692.7 499.2L693.0 515.3L693.2 529.2L693.5 530.2L693.8 523.9L694.0 516.7L694.3 510.4L694.6 504.6L694.9 495.4L695.1 489.8L695.4 491.1L695.7 494.4L695.9 501.6L696.2 511.3L696.5 514.4L696.7 506.8L697.0 496.0L697.3 492.0L697.6 495.4L697.8 502.0L698.1 508.0L698.4 508.8L698.6 504.4L698.9 501.4L699.2 505.4L699.4 514.7L699.7 522.6L700.0 522.7L700.3 515.2L700.5 509.5L700.8 508.6L701.1 506.8L701.3 500.9L701.6 495.3L701.9 493.6L702.1 491.0L702.4 490.6L702.7 493.9L703.0 495.1L703.2 492.6L703.5 490.5L703.8 494.9L704.0 503.8L704.3 510.1L704.6 514.4L704.8 519.0L705.1 516.3L705.4 505.1L705.7 501.4L705.9 505.9L706.2 509.6L706.5 514.9L706.7 518.1L707.0 514.3L707.3 505.3L707.5 501.8L707.8 505.3L708.1 506.0L708.4 503.0L708.6 501.3L708.9 498.5L709.2 493.4L709.4 496.0L709.7 503.5L710.0 505.5L710.2 502.8L710.5 498.1L710.8 494.7L711.1 499.6L711.3 510.5L711.6 517.7L711.9 517.7L712.1 510.4L712.4 503.9L712.7 502.7L712.9 504.1L713.2 507.0L713.5 509.9L713.8 509.0L714.0 503.9L714.3 496.9L714.6 492.2L714.8 495.5L715.1 504.2L715.4 512.2L715.6 518.8L715.9 520.3L716.2 517.1L716.5 516.4L716.7 511.4L717.0 496.7L717.3 484.7L717.5 482.5L717.8 485.7L718.1 488.2L718.3 488.0L718.6 493.0L718.9 504.3L719.2 515.3L719.4 528.2L719.7 537.2L720.0 532.3L720.2 520.9L720.5 505.1L720.8 490.3L721.0 488.5L721.3 491.2L721.6 492.2L721.9 496.5L722.1 498.5L722.4 499.5L722.7 502.8L722.9 502.8L723.2 503.9L723.5 510.4L723.7 516.0L724.0 517.3L724.3 515.5L724.6 514.3L724.8 510.4L725.1 499.2L725.4 487.6L725.6 483.8L725.9 488.9L726.2 500.9L726.5 511.7L726.7 515.7L727.0 512.9L727.3 505.4L727.5 498.3L727.8 491.0L728.1 485.5L728.3 489.4L728.6 504.1L728.9 520.4L729.2 529.7L729.4 532.7L729.7 528.8L730.0 517.6L730.2 505.0L730.5 497.3L730.8 496.2L731.0 501.1L731.3 506.1L731.6 506.1L731.9 505.5L732.1 504.6L732.4 502.0L732.7 500.1L732.9 501.0L733.2 500.3L733.5 495.7L733.7 491.9L734.0 493.7L734.3 502.8L734.6 513.4L734.8 516.6L735.1 512.1L735.4 503.8L735.6 495.5L735.9 490.8L736.2 491.7L736.4 494.3L736.7 495.5L737.0 496.5L737.3 500.3L737.5 508.2L737.8 518.7L738.1 524.2L738.3 520.9L738.6 514.7L738.9 503.9L739.1 491.4L739.4 489.8L739.7 496.0L740.0 496.6L740.2 494.1L740.5 496.0L740.8 497.4L741.0 496.0L741.3 494.7L741.6 497.3L741.8 503.7L742.1 510.3L742.4 514.9L742.7 515.9L742.9 514.9L743.2 513.5L743.5 509.9L743.7 506.3L744.0 505.0L744.3 505.9L744.5 503.7L744.8 501.7L745.1 506.1L745.4 508.1L745.6 506.2L745.9 503.2L746.2 497.6L746.4 495.3L746.7 498.3L747.0 504.1L747.2 511.2L747.5 512.5L747.8 509.9L748.1 509.3L748.3 506.1L748.6 500.5L748.9 497.4L749.1 499.0L749.4 502.6L749.7 503.5L749.9 504.4L750.2 506.5L750.5 508.7L750.8 507.3L751.0 500.0L751.3 492.7L751.6 491.1L751.8 495.9L752.1 506.9L752.4 519.6L752.6 524.9L752.9 516.6L753.2 501.3L753.5 489.6L753.7 483.7L754.0 483.7L754.3 494.0L754.5 509.4L754.8 520.4L755.1 521.1L755.3 511.4L755.6 500.2L755.9 494.1L756.2 493.9L756.4 498.0L756.7 502.4L757.0 502.8L757.2 501.4L757.5 503.5L757.8 509.6L758.0 511.2L758.3 504.7L758.6 498.8L758.9 495.6L759.1 492.2L759.4 493.9L759.7 504.8L759.9 518.7L760.2 527.1L760.5 527.7L760.7 521.4L761.0 509.2L761.3 498.4L761.6 494.7L761.8 496.0L762.1 497.3L762.4 497.9L762.6 500.2L762.9 501.5L763.2 503.8L763.4 510.9L763.7 515.9L764.0 517.6L764.3 518.3L764.5 513.1L764.8 505.1L765.1 497.9L765.3 494.6L765.6 501.1L765.9 510.4L766.1 514.7L766.4 516.3L766.7 513.8L767.0 507.9L767.2 505.1L767.5 503.7L767.8 502.5L768.0 502.3L768.3 500.7L768.6 496.4L768.8 493.7L769.1 496.9L769.4 501.3L769.7 505.5L769.9 510.3L770.2 513.8L770.5 512.7L770.7 509.6L771.0 509.5L771.3 514.0L771.5 517.7L771.8 515.4L772.1 510.5L772.4 505.3L772.6 504.1L772.9 506.3L773.2 505.5L773.4 501.9L773.7 498.8L774.0 496.4L774.2 494.2L774.5 491.6L774.8 490.5L775.1 492.6L775.3 493.2L775.6 493.3L775.9 498.1L776.1 501.8L776.4 501.5L776.7 503.7L776.9 506.3L777.2 505.6L777.5 507.5L777.8 509.4L778.0 507.0L778.3 505.3L778.6 501.3L778.8 494.9L779.1 492.8L779.4 493.6L779.6 496.0L779.9 501.8L780.2 508.8L780.5 511.1L780.7 507.4L781.0 501.5L781.3 495.7L781.5 496.1L781.8 503.6L782.1 510.3L782.3 510.4L782.6 508.8L782.9 509.1L783.2 505.8L783.4 498.7L783.7 494.9L784.0 497.5L784.2 502.9L784.5 506.4L784.8 507.3L785.0 506.3L785.3 504.2L785.6 502.4L785.9 498.4L786.1 494.3L786.4 495.8L786.7 502.5L786.9 510.1L787.2 513.5L787.5 512.8L787.7 508.8L788.0 504.3L788.3 503.9L788.6 504.4L788.8 503.2L789.1 504.3L789.4 507.5L789.6 509.4L789.9 508.5L790.2 507.7L790.4 506.5L790.7 504.0L791.0 502.5L791.3 500.1L791.5 497.0L791.8 495.2L792.1 495.7L792.3 499.7L792.6 505.6L792.9 510.0L793.1 511.0L793.4 509.5L793.7 507.5L794.0 505.3L794.2 503.5L794.5 501.6L794.8 499.6L795.0 500.3L795.3 502.4L795.6 504.1L795.8 504.5L796.1 501.7L796.4 498.7L796.7 496.1L796.9 494.9L797.2 498.8L797.5 504.4L797.7 505.7L798.0 504.1L798.3 503.8L798.5 505.7L798.8 510.4L799.1 519.3L799.4 526.9L799.6 523.3L799.9 509.8L800.2 492.8L800.4 482.1L800.7 486.9L801.0 501.8L801.2 519.2L801.5 529.1L801.8 523.9L802.1 509.9L802.3 498.2L802.6 493.6L802.9 497.0L803.1 506.2L803.4 514.7L803.7 520.0L803.9 522.1L804.2 514.2L804.5 499.1L804.8 490.2L805.0 492.8L805.3 502.9L805.6 517.1L805.8 526.8L806.1 526.4L806.4 519.1L806.6 507.7L806.9 496.7L807.2 490.7L807.5 484.9L807.7 479.7L808.0 481.3L808.3 491.7L808.5 506.8L808.8 519.9L809.1 527.7L809.3 524.3L809.6 510.9L809.9 499.6L810.2 494.2L810.4 495.0L810.7 501.2L811.0 506.6L811.2 507.4L811.5 503.3L811.8 496.9L812.1 495.4L812.3 499.4L812.6 502.7L812.9 505.4L813.1 510.8L813.4 517.1L813.7 519.1L813.9 516.7L814.2 510.8L814.5 504.9L814.8 502.2L815.0 501.9L815.3 503.2L815.6 503.4L815.8 501.7L816.1 500.3L816.4 498.5L816.6 497.3L816.9 500.1L817.2 506.3L817.5 513.1L817.7 516.1L818.0 514.9L818.3 510.2L818.5 501.5L818.8 495.6L819.1 498.8L819.3 506.2L819.6 510.9L819.9 512.7L820.2 511.8L820.4 506.1L820.7 497.4L821.0 489.9L821.2 484.2L821.5 482.4L821.8 485.2L822.0 490.2L822.3 498.6L822.6 511.0L822.9 520.8L823.1 522.0L823.4 511.2L823.7 496.2L823.9 486.4L824.2 483.5L824.5 488.5L824.7 501.1L825.0 516.1L825.3 524.5L825.6 523.2L825.8 515.4L826.1 503.7L826.4 491.5L826.6 485.4L826.9 489.1L827.2 497.8L827.4 508.0L827.7 515.3L828.0 514.7L828.3 511.7L828.5 512.5L828.8 514.3L829.1 513.5L829.3 507.7L829.6 496.9L829.9 487.0L830.1 486.6L830.4 492.8L830.7 498.6L831.0 503.0L831.2 508.3L831.5 514.5L831.8 518.5L832.0 518.0L832.3 514.1L832.6 510.7L832.8 508.5L833.1 504.2L833.4 500.9L833.7 502.7L833.9 502.4L834.2 497.8L834.5 494.3L834.7 493.0L835.0 494.6L835.3 498.3L835.5 505.9L835.8 512.0L836.1 510.5L836.4 506.6L836.6 504.3L836.9 501.2L837.2 496.5L837.4 494.5L837.7 498.2L838.0 502.7L838.2 504.0L838.5 505.1L838.8 506.9L839.1 508.2L839.3 510.3L839.6 511.8L839.9 509.9L840.1 506.9L840.4 504.4L840.7 499.8L840.9 496.1L841.2 496.2L841.5 501.0L841.8 508.3L842.0 516.0L842.3 523.5L842.6 525.8L842.8 522.1L843.1 516.8L843.4 510.3L843.6 501.9L843.9 493.9L844.2 491.6L844.5 498.2L844.7 509.1L845.0 516.1L845.3 517.2L845.5 516.7L845.8 511.4L846.1 501.4L846.3 499.3L846.6 505.5L846.9 510.2L847.2 509.9L847.4 505.2L847.7 501.2L848.0 500.3L848.2 499.8L848.5 498.4L848.8 497.4L849.0 498.6L849.3 500.5L849.6 503.1L849.9 509.3L850.1 515.7L850.4 518.1L850.7 512.5L850.9 502.6L851.2 497.3L851.5 497.2L851.7 499.4L852.0 504.7L852.3 511.3L852.6 511.6L852.8 504.5L853.1 497.1L853.4 493.3L853.6 491.9L853.9 493.9L854.2 498.2L854.4 501.8L854.7 504.8L855.0 508.6L855.3 513.2L855.5 517.0L855.8 518.2L856.1 513.3L856.3 504.3L856.6 497.2L856.9 493.9L857.1 496.2L857.4 504.7L857.7 513.8L858.0 517.2L858.2 515.0L858.5 509.1L858.8 501.9L859.0 496.7L859.3 494.5L859.6 496.8L859.8 501.2L860.1 502.0L860.4 503.1L860.7 508.7L860.9 514.1L861.2 515.9L861.5 514.8L861.7 509.8L862.0 499.3L862.3 491.2L862.5 492.2L862.8 499.2L863.1 509.4L863.4 518.0L863.6 517.4L863.9 507.6L864.2 499.0L864.4 498.9L864.7 502.2L865.0 503.3L865.2 504.2L865.5 505.3L865.8 506.0L866.1 508.5L866.3 511.0L866.6 511.9L866.9 511.9L867.1 513.0L867.4 516.1L867.7 515.6L867.9 510.5L868.2 508.3L868.5 508.4L868.8 507.1L869.0 507.7L869.3 507.7L869.6 505.2L869.8 505.3L870.1 508.0L870.4 510.0L870.6 509.2L870.9 506.8L871.2 503.5L871.5 500.7L871.7 501.8L872.0 504.7L872.3 506.6L872.5 508.8L872.8 510.0L873.1 509.8L873.3 513.3L873.6 519.8L873.9 520.9L874.2 514.4L874.4 505.5L874.7 500.3L875.0 500.1L875.2 500.5L875.5 497.5L875.8 495.1L876.0 496.3L876.3 500.7L876.6 507.6L876.9 510.8L877.1 511.7L877.4 513.9L877.7 511.9L877.9 509.3L878.2 507.9L878.5 500.1L878.7 491.4L879.0 489.9L879.3 496.8L879.6 508.4L879.8 517.9L880.1 519.4L880.4 511.8L880.6 501.9L880.9 497.7L881.2 501.8L881.4 512.4L881.7 521.0L882.0 520.4L882.3 513.8L882.5 504.9L882.8 498.5L883.1 495.9L883.3 490.2L883.6 483.6L883.9 485.7L884.1 497.1L884.4 508.8L884.7 515.8L885.0 522.3L885.2 526.4L885.5 524.5L885.8 522.0L886.0 516.8L886.3 504.7L886.6 491.8L886.8 486.3L887.1 493.9L887.4 510.1L887.7 521.7L887.9 520.5L888.2 510.8L888.5 503.0L888.7 503.5L889.0 510.3L889.3 512.4L889.5 504.8L889.8 498.4L890.1 498.6L890.4 500.9L890.6 505.3L890.9 510.2L891.2 508.4L891.4 501.2L891.7 493.4L892.0 490.0L892.2 492.1L892.5 493.8L892.8 496.3L893.1 504.8L893.3 510.3L893.6 507.5L893.9 503.1L894.1 503.8L894.4 509.2L894.7 512.8L894.9 515.2L895.2 513.9L895.5 505.7L895.8 503.0L896.0 510.4L896.3 516.9L896.6 519.7L896.8 515.8L897.1 502.9L897.4 492.4L897.6 494.8L897.9 502.9L898.2 502.9L898.5 495.0L898.7 492.7L899.0 495.1L899.3 494.0L899.5 497.4L899.8 506.5L900.1 513.1L900.4 517.2L900.6 520.9L900.9 523.8L901.2 525.9L901.4 523.9L901.7 514.5L902.0 498.8L902.2 480.1L902.5 470.0L902.8 476.3L903.1 498.2L903.3 527.0L903.6 542.4L903.9 536.8L904.1 517.8L904.4 495.1L904.7 482.9L904.9 488.8L905.2 508.1L905.5 524.6L905.8 527.7L906.0 520.7L906.3 508.0L906.6 496.9L906.8 489.4L907.1 481.3L907.4 479.2L907.6 485.4L907.9 493.3L908.2 505.5L908.5 521.9L908.7 531.3L909.0 532.0L909.3 527.9L909.5 518.8L909.8 507.7L910.1 496.8L910.3 485.9L910.6 484.8L910.9 497.7L911.2 515.9L911.4 530.1L911.7 531.5L912.0 519.1L912.2 504.2L912.5 494.5L912.8 490.2L913.0 491.2L913.3 499.1L913.6 509.4L913.9 513.6L914.1 511.5L914.4 513.2L914.7 523.1L914.9 531.8L915.2 533.8L915.5 530.1L915.7 518.9L916.0 503.1L916.3 493.5L916.6 493.4L916.8 496.9L917.1 501.1L917.4 503.5L917.6 502.2L917.9 497.6L918.2 499.4L918.4 510.9L918.7 521.3L919.0 525.2L919.3 520.8L919.5 508.8L919.8 495.9L920.1 490.8L920.3 493.2L920.6 498.3L920.9 505.8L921.1 511.6L921.4 515.4L921.7 516.7L922.0 514.6L922.2 509.7L922.5 506.4L922.8 510.5L923.0 519.0L923.3 522.3L923.6 519.5L923.8 514.9L924.1 509.6L924.4 504.7L924.7 502.3L924.9 503.0L925.2 500.3L925.5 495.4L925.7 496.6L926.0 502.7L926.3 507.6L926.5 509.7L926.8 509.3L927.1 506.2L927.4 501.0L927.6 500.1L927.9 504.1L928.2 505.8L928.4 509.4L928.7 517.0L929.0 519.6L929.2 513.5L929.5 505.2L929.8 501.8L930.1 501.3L930.3 501.9L930.6 504.7L930.9 511.6L931.1 518.9L931.4 522.8L931.7 523.5L931.9 515.8L932.2 500.5L932.5 490.5L932.8 490.8L933.0 496.9L933.3 509.2L933.6 521.7L933.8 527.2L934.1 527.5L934.4 522.6L934.6 515.8L934.9 510.5L935.2 505.1L935.5 500.3L935.7 501.2L936.0 503.5L936.3 502.1L936.5 501.8L936.8 505.1L937.1 513.9L937.3 522.7L937.6 523.8L937.9 518.8L938.2 510.0L938.4 500.5L938.7 495.8L939.0 497.0L939.2 502.1L939.5 511.4L939.8 520.2L940.0 523.9L940.3 523.8L940.6 520.3L940.9 514.7L941.1 511.6L941.4 511.3L941.7 508.7L941.9 503.9L942.2 500.7L942.5 498.8L942.7 496.6L943.0 499.8L943.3 509.0L943.6 517.8L943.8 524.6L944.1 525.5L944.4 518.1L944.6 508.1L944.9 497.5L945.2 487.6L945.4 481.4L945.7 483.2L946.0 496.2L946.3 511.2L946.5 519.2L946.8 523.3L947.1 522.8L947.3 518.5L947.6 514.1L947.9 508.4L948.1 502.8L948.4 500.4L948.7 496.3L949.0 492.5L949.2 497.7L949.5 503.6L949.8 504.5L950.0 512.7L950.3 523.7L950.6 527.0L950.8 525.0L951.1 518.6L951.4 510.9L951.7 501.1L951.9 488.5L952.2 484.3L952.5 488.9L952.7 491.8L953.0 493.6L953.3 497.0L953.5 501.4L953.8 507.6L954.1 513.2L954.4 516.7L954.6 517.3L954.9 512.6L955.2 504.7L955.4 500.0L955.7 497.9L956.0 494.5L956.2 490.7L956.5 487.1L956.8 484.9L957.1 491.5L957.3 505.9L957.6 515.5L957.9 519.6L958.1 519.8L958.4 515.8L958.7 512.3L958.9 511.3L959.2 507.3L959.5 505.2L959.8 509.8L960.0 512.0L960.3 509.9L960.6 508.4L960.8 510.2L961.1 511.4L961.4 513.5L961.6 517.2L961.9 512.2L962.2 502.1L962.5 499.1L962.7 501.8L963.0 501.8L963.3 501.1L963.5 505.5L963.8 510.5L964.1 513.6L964.3 518.0L964.6 518.9L964.9 515.9L965.2 513.4L965.4 513.9L965.7 516.3L966.0 510.9L966.2 499.4L966.5 491.2L966.8 488.4L967.0 492.8L967.3 502.3L967.6 511.0L967.9 519.3L968.1 525.9L968.4 527.3L968.7 523.0L968.9 517.0L969.2 517.2L969.5 522.6L969.7 525.3L970.0 525.5L970.3 524.6L970.6 518.1L970.8 505.7L971.1 494.8L971.4 489.6L971.6 489.7L971.9 494.6L972.2 501.9L972.4 510.1L972.7 517.2L973.0 522.2L973.3 523.7L973.5 520.6L973.8 514.7L974.1 505.6L974.3 498.2L974.6 497.8L974.9 504.3L975.1 517.5L975.4 530.9L975.7 531.7L976.0 524.8L976.2 520.6L976.5 513.1L976.8 502.1L977.0 495.8L977.3 494.7L977.6 497.3L977.8 502.4L978.1 509.6L978.4 518.7L978.7 524.2L978.9 524.9L979.2 522.0L979.5 516.5L979.7 511.0L980.0 506.5L980.3 505.2L980.5 504.8L980.8 504.4L981.1 508.5L981.4 512.8L981.6 512.9L981.9 508.9L982.2 502.1L982.4 495.7L982.7 494.5L983.0 499.7L983.2 506.5L983.5 509.8L983.8 509.3L984.1 508.1L984.3 508.2L984.6 511.2L984.9 518.1L985.1 523.7L985.4 521.7L985.7 517.8L986.0 518.3L986.2 522.7L986.5 523.6L986.8 516.8L987.0 508.5L987.3 505.1L987.6 506.1L987.8 510.3L988.1 513.2L988.4 511.2L988.7 508.5L988.9 508.2L989.2 510.2L989.5 512.3L989.7 514.3L990.0 517.7L990.3 518.8L990.5 515.6L990.8 510.9L991.1 508.0L991.4 507.6L991.6 508.7L991.9 509.8L992.2 508.5L992.4 503.7L992.7 501.2L993.0 504.0L993.2 507.3L993.5 509.1L993.8 510.7L994.1 509.5L994.3 508.6L994.6 515.2L994.9 524.0L995.1 525.4L995.4 518.5L995.7 507.5L995.9 497.8L996.2 491.8L996.5 492.2L996.8 499.8L997.0 508.1L997.3 513.1L997.6 516.0L997.8 516.1L998.1 513.8L998.4 511.8L998.6 509.1L998.9 508.6L999.2 515.1L999.5 522.3L999.7 521.0L1000.0 516.0L1000.3 515.4L1000.5 515.4L1000.8 514.8L1001.1 515.6L1001.3 515.1L1001.6 512.4L1001.9 509.4L1002.2 509.1L1002.4 509.6L1002.7 508.1L1003.0 506.3L1003.2 506.3L1003.5 507.1L1003.8 509.1L1004.0 515.3L1004.3 522.9L1004.6 525.9L1004.9 523.4L1005.1 517.3L1005.4 511.8L1005.7 507.2L1005.9 502.5L1006.2 499.7L1006.5 499.1L1006.7 499.5L1007.0 499.3L1007.3 501.0L1007.6 505.4L1007.8 509.0L1008.1 511.5L1008.4 513.2L1008.6 514.1L1008.9 512.2L1009.2 509.0L1009.4 509.6L1009.7 513.2L1010.0 516.7L1010.3 515.2L1010.5 509.9L1010.8 506.3L1011.1 502.8L1011.3 497.7L1011.6 493.0L1011.9 490.5L1012.1 492.3L1012.4 499.5L1012.7 506.0L1013.0 508.9L1013.2 512.8L1013.5 516.9L1013.8 516.7L1014.0 516.2L1014.3 518.2L1014.6 517.7L1014.8 512.6L1015.1 506.2L1015.4 499.9L1015.7 493.8L1015.9 491.3L1016.2 495.9L1016.5 506.2L1016.7 516.1L1017.0 528.4L1017.3 540.4L1017.5 535.8L1017.8 513.6L1018.1 489.5L1018.4 480.4L1018.6 489.1L1018.9 508.2L1019.2 529.5L1019.4 540.8L1019.7 536.6L1020.0 528.0L1020.2 519.9L1020.5 507.0L1020.8 492.5L1021.1 481.9L1021.3 477.4L1021.6 480.3L1021.9 488.8L1022.1 497.2L1022.4 504.4L1022.7 513.9L1022.9 525.0L1023.2 536.5L1023.5 547.7L1023.8 547.7L1024.0 532.1L1024.3 513.1L1024.6 500.5L1024.8 492.1L1025.1 488.7L1025.4 496.9L1025.6 512.3L1025.9 521.4L1026.2 522.1L1026.5 517.4L1026.7 504.5L1027.0 491.4L1027.3 492.1L1027.5 504.7L1027.8 520.3L1028.1 531.4L1028.3 530.5L1028.6 522.5L1028.9 515.5L1029.2 512.2L1029.4 513.2L1029.7 516.6L1030.0 519.8L1030.2 521.0L1030.5 520.9L1030.8 518.1L1031.0 509.7L1031.3 501.2L1031.6 494.4L1031.9 488.4L1032.1 489.3L1032.4 499.2L1032.7 510.1L1032.9 516.4L1033.2 522.9L1033.5 530.4L1033.7 535.2L1034.0 535.4L1034.3 528.7L1034.6 518.1L1034.8 509.6L1035.1 501.8L1035.4 494.1L1035.6 489.7L1035.9 488.2L1036.2 491.9L1036.4 497.4L1036.7 500.7L1037.0 505.6L1037.3 510.7L1037.5 516.7L1037.8 523.7L1038.1 530.5L1038.3 536.2L1038.6 534.6L1038.9 524.3L1039.1 508.8L1039.4 493.6L1039.7 483.9L1040.0 482.9L1040.2 491.9L1040.5 504.1L1040.8 509.9L1041.0 511.1L1041.3 512.2L1041.6 515.6L1041.8 521.6L1042.1 522.8L1042.4 517.9L1042.7 513.6L1042.9 509.9L1043.2 506.7L1043.5 507.2L1043.7 510.8L1044.0 512.6L1044.3 512.7L1044.5 512.2L1044.8 509.8L1045.1 507.4L1045.4 509.6L1045.6 514.4L1045.9 513.6L1046.2 508.3L1046.4 502.2L1046.7 493.5L1047.0 488.9L1047.2 496.6L1047.5 512.8L1047.8 528.7L1048.1 536.9L1048.3 536.8L1048.6 529.6L1048.9 514.1L1049.1 495.6L1049.4 483.4L1049.7 480.4L1049.9 486.9L1050.2 499.7L1050.5 513.3L1050.8 525.3L1051.0 531.6L1051.3 531.5L1051.6 524.3L1051.8 515.6L1052.1 514.0L1052.4 517.7L1052.6 521.6L1052.9 521.5L1053.2 518.5L1053.5 514.3L1053.7 505.1L1054.0 499.0L1054.3 504.8L1054.5 514.5L1054.8 519.1L1055.1 522.7L1055.3 522.0L1055.6 513.0L1055.9 507.3L1056.2 507.5L1056.4 504.8L1056.7 503.2L1057.0 505.5L1057.2 501.6L1057.5 492.3L1057.8 488.6L1058.0 498.9L1058.3 517.8L1058.6 531.6L1058.9 535.2L1059.1 529.4L1059.4 517.7L1059.7 506.0L1059.9 501.4L1060.2 504.8L1060.5 504.9L1060.7 500.9L1061.0 502.3L1061.3 509.5L1061.6 516.4L1061.8 519.4L1062.1 514.2L1062.4 499.8L1062.6 487.7L1062.9 487.1L1063.2 494.9L1063.4 507.3L1063.7 521.0L1064.0 531.6L1064.3 532.7L1064.5 525.0L1064.8 515.4L1065.1 501.6L1065.3 488.0L1065.6 488.7L1065.9 498.3L1066.1 507.6L1066.4 516.0L1066.7 522.2L1067.0 526.3L1067.2 526.3L1067.5 521.9L1067.8 518.8L1068.0 516.1L1068.3 511.9L1068.6 508.5L1068.8 504.9L1069.1 501.4L1069.4 498.0L1069.7 494.3L1069.9 495.6L1070.2 505.3L1070.5 515.4L1070.7 517.5L1071.0 511.1L1071.3 499.1L1071.6 493.2L1071.8 498.9L1072.1 509.0L1072.4 518.8L1072.6 522.1L1072.9 518.0L1073.2 511.6L1073.4 504.5L1073.7 499.2L1074.0 498.3L1074.3 500.7L1074.5 505.7L1074.8 510.0L1075.1 511.7L1075.3 514.7L1075.6 523.5L1075.9 531.3L1076.1 528.3L1076.4 524.5L1076.7 524.4L1077.0 514.7L1077.2 497.5L1077.5 485.9L1077.8 480.9L1078.0 482.5L1078.3 496.6L1078.6 516.7L1078.8 528.4L1079.1 527.7L1079.4 518.3L1079.7 508.5L1079.9 507.8L1080.2 514.7L1080.5 521.6L1080.7 524.3L1081.0 519.9L1081.3 512.8L1081.5 510.9L1081.8 506.4L1082.1 498.9L1082.4 498.4L1082.6 499.0L1082.9 497.8L1083.2 500.4L1083.4 507.5L1083.7 518.1L1084.0 524.7L1084.2 523.1L1084.5 514.0L1084.8 494.5L1085.1 476.3L1085.3 477.2L1085.6 493.1L1085.9 515.2L1086.1 537.9L1086.4 547.6L1086.7 542.7L1086.9 533.5L1087.2 522.2L1087.5 511.4L1087.8 503.0L1088.0 496.1L1088.3 495.8L1088.6 500.2L1088.8 501.4L1089.1 501.6L1089.4 507.9L1089.6 515.8L1089.9 512.7L1090.2 501.1L1090.5 491.0L1090.7 492.4L1091.0 508.3L1091.3 522.0L1091.5 523.5L1091.8 519.1L1092.1 513.8L1092.3 509.8L1092.6 511.2L1092.9 513.9L1093.2 511.9L1093.4 508.3L1093.7 506.1L1094.0 509.7L1094.2 517.7L1094.5 519.2L1094.8 513.5L1095.0 505.0L1095.3 499.0L1095.6 501.9L1095.9 508.2L1096.1 510.5L1096.4 514.7L1096.7 519.8L1096.9 519.5L1097.2 515.1L1097.5 506.6L1097.7 499.5L1098.0 495.1L1098.3 490.2L1098.6 491.6L1098.8 501.1L1099.1 509.4L1099.4 513.1L1099.6 511.0L1099.9 507.2L1100.2 509.2L1100.4 512.6L1100.7 512.9L1101.0 513.4L1101.3 517.9L1101.5 524.2L1101.8 528.8L1102.1 530.4L1102.3 526.4L1102.6 516.7L1102.9 505.6L1103.1 497.9L1103.4 497.6L1103.7 505.0L1104.0 512.4L1104.2 512.5L1104.5 508.5L1104.8 504.6L1105.0 503.9L1105.3 509.8L1105.6 516.1L1105.8 520.4L1106.1 520.6L1106.4 513.9L1106.7 506.4L1106.9 504.7L1107.2 508.4L1107.5 513.3L1107.7 518.2L1108.0 524.9L1108.3 528.1L1108.5 525.2L1108.8 522.1L1109.1 515.4L1109.4 507.0L1109.6 502.2L1109.9 497.3L1110.2 495.6L1110.4 500.0L1110.7 508.4L1111.0 516.2L1111.2 517.4L1111.5 513.4L1111.8 507.5L1112.1 503.4L1112.3 501.9L1112.6 499.3L1112.9 496.0L1113.1 497.0L1113.4 504.1L1113.7 515.1L1113.9 527.1L1114.2 531.2L1114.5 524.6L1114.8 514.0L1115.0 504.7L1115.3 500.5L1115.6 503.4L1115.8 511.5L1116.1 516.6L1116.4 516.0L1116.6 516.6L1116.9 519.1L1117.2 521.1L1117.5 521.4L1117.7 518.3L1118.0 512.4L1118.3 505.7L1118.5 500.9L1118.8 498.4L1119.1 496.4L1119.3 498.3L1119.6 503.1L1119.9 506.4L1120.2 510.1L1120.4 515.6L1120.7 519.6L1121.0 521.2L1121.2 522.0L1121.5 522.0L1121.8 517.9L1122.0 505.5L1122.3 488.0L1122.6 478.0L1122.9 483.7L1123.1 502.0L1123.4 519.9L1123.7 527.3L1123.9 524.9L1124.2 519.6L1124.5 516.1L1124.7 513.4L1125.0 509.6L1125.3 505.2L1125.6 505.1L1125.8 507.0L1126.1 506.4L1126.4 503.5L1126.6 500.0L1126.9 496.9L1127.2 495.4L1127.4 495.6L1127.7 497.2L1128.0 501.6L1128.3 509.2L1128.5 516.6L1128.8 518.6L1129.1 515.9L1129.3 514.3L1129.6 515.9L1129.9 522.0L1130.1 530.2L1130.4 533.9L1130.7 533.4L1131.0 529.6L1131.2 519.9L1131.5 508.0L1131.8 501.0L1132.0 496.3L1132.3 492.5L1132.6 494.1L1132.8 498.0L1133.1 497.4L1133.4 495.4L1133.7 497.8L1133.9 503.2L1134.2 508.8L1134.5 513.6L1134.7 516.3L1135.0 513.7L1135.3 506.4L1135.5 501.4L1135.8 503.0L1136.1 509.2L1136.4 517.5L1136.6 525.7L1136.9 530.4L1137.2 529.0L1137.4 521.6L1137.7 512.5L1138.0 506.4L1138.2 505.4L1138.5 506.0L1138.8 503.4L1139.1 500.3L1139.3 500.5L1139.6 504.1L1139.9 510.3L1140.1 512.9L1140.4 510.8L1140.7 507.6L1140.9 502.6L1141.2 498.4L1141.5 498.3L1141.8 501.0L1142.0 506.3L1142.3 513.0L1142.6 517.7L1142.8 518.0L1143.1 517.2L1143.4 516.2L1143.6 513.0L1143.9 510.8L1144.2 512.5L1144.5 518.4L1144.7 530.8L1145.0 542.7L1145.3 541.8L1145.5 527.5L1145.8 512.3L1146.1 507.0L1146.3 512.1L1146.6 519.2L1146.9 520.8L1147.2 517.8L1147.4 513.8L1147.7 509.6L1148.0 507.3L1148.2 509.0L1148.5 508.1L1148.8 503.3L1149.0 502.3L1149.3 504.3L1149.6 504.6L1149.9 507.0L1150.1 511.5L1150.4 512.8L1150.7 510.8L1150.9 509.3L1151.2 511.7L1151.5 517.4L1151.7 517.8L1152.0 510.0L1152.3 503.1L1152.6 498.4L1152.8 497.6L1153.1 504.5L1153.4 518.0L1153.6 532.1L1153.9 537.0L1154.2 529.3L1154.4 515.6L1154.7 503.3L1155.0 497.1L1155.3 497.6L1155.5 501.3L1155.8 505.7L1156.1 510.6L1156.3 516.5L1156.6 518.9L1156.9 513.6L1157.2 502.0L1157.4 493.0L1157.7 491.6L1158.0 495.1L1158.2 501.8L1158.5 510.2L1158.8 517.6L1159.0 521.4L1159.3 519.3L1159.6 516.4L1159.9 515.8L1160.1 513.6L1160.4 513.0L1160.7 514.4L1160.9 514.4L1161.2 514.5L1161.5 515.6L1161.7 516.6L1162.0 514.4L1162.3 508.7L1162.6 504.4L1162.8 500.7L1163.1 501.0L1163.4 507.9L1163.6 511.9L1163.9 516.0L1164.2 520.4L1164.4 522.7L1164.7 524.5L1165.0 519.2L1165.3 509.6L1165.5 501.9L1165.8 496.1L1166.1 495.1L1166.3 500.2L1166.6 507.2L1166.9 515.7L1167.1 522.2L1167.4 521.7L1167.7 516.0L1168.0 506.9L1168.2 501.1L1168.5 503.6L1168.8 510.5L1169.0 517.7L1169.3 521.0L1169.6 521.1L1169.8 517.9L1170.1 512.7L1170.4 508.2L1170.7 501.0L1170.9 491.3L1171.2 486.3L1171.5 490.3L1171.7 499.9L1172.0 511.5L1172.3 523.0L1172.5 530.3L1172.8 531.5L1173.1 528.8L1173.4 523.7L1173.6 515.8L1173.9 506.5L1174.2 502.1L1174.4 508.3L1174.7 513.1L1175.0 507.9L1175.2 505.6L1175.5 512.5L1175.8 520.4L1176.1 523.6L1176.3 522.7L1176.6 517.1L1176.9 508.6L1177.1 500.8L1177.4 497.0L1177.7 500.0L1177.9 504.4L1178.2 507.1L1178.5 508.6L1178.8 505.1L1179.0 502.2L1179.3 506.3L1179.6 514.5L1179.8 521.1L1180.1 522.1L1180.4 520.8L1180.6 518.2L1180.9 515.3L1181.2 517.3L1181.5 520.8L1181.7 520.0L1182.0 516.8L1182.3 510.9L1182.5 506.2L1182.8 508.1L1183.1 512.3L1183.3 512.2L1183.6 512.7L1183.9 522.6L1184.2 535.4L1184.4 537.9L1184.7 527.6L1185.0 516.5L1185.2 511.7L1185.5 507.9L1185.8 506.4L1186.0 508.7L1186.3 507.7L1186.6 502.2L1186.9 500.8L1187.1 506.7L1187.4 515.4L1187.7 522.7L1187.9 524.8L1188.2 521.9L1188.5 517.0L1188.7 510.4L1189.0 506.9L1189.3 512.7L1189.6 520.9L1189.8 520.5L1190.1 517.0L1190.4 511.2L1190.6 501.1L1190.9 493.8L1191.2 493.5L1191.4 499.2L1191.7 509.4L1192.0 520.5L1192.3 526.4L1192.5 521.0L1192.8 512.4L1193.1 509.3L1193.3 509.4L1193.6 514.9L1193.9 520.8L1194.1 518.5L1194.4 512.2L1194.7 506.0L1195.0 499.2L1195.2 498.4L1195.5 507.4L1195.8 516.5L1196.0 521.1L1196.3 523.5L1196.6 524.7L1196.8 525.7L1197.1 524.1L1197.4 521.4L1197.7 518.7L1197.9 510.5L1198.2 504.7L1198.5 505.6L1198.7 504.1L1199.0 503.0L1199.3 505.7L1199.5 505.0L1199.8 501.1L1200.1 498.0L1200.4 497.3L1200.6 502.5L1200.9 511.4L1201.2 517.8L1201.4 518.4L1201.7 514.1L1202.0 512.5L1202.2 515.0L1202.5 519.7L1202.8 523.9L1203.1 523.1L1203.3 516.7L1203.6 510.2L1203.9 505.6L1204.1 501.3L1204.4 499.6L1204.7 499.8L1204.9 501.9L1205.2 506.3L1205.5 511.2L1205.8 516.3L1206.0 519.9L1206.3 518.9L1206.6 517.1L1206.8 517.2L1207.1 514.0L1207.4 507.6L1207.6 502.0L1207.9 498.6L1208.2 498.7L1208.5 500.0L1208.7 501.1L1209.0 504.7L1209.3 507.5L1209.5 508.7L1209.8 510.7L1210.1 513.1L1210.3 515.3L1210.6 515.6L1210.9 511.5L1211.2 505.5L1211.4 503.7L1211.7 505.6L1212.0 507.7L1212.2 510.4L1212.5 513.2L1212.8 515.9L1213.0 517.7L1213.3 517.3L1213.6 518.1L1213.9 522.7L1214.1 524.2L1214.4 517.6L1214.7 507.3L1214.9 497.9L1215.2 493.1L1215.5 495.0L1215.7 501.0L1216.0 503.7L1216.3 499.9L1216.6 499.0L1216.8 506.7L1217.1 518.6L1217.4 529.3L1217.6 535.3L1217.9 535.8L1218.2 529.8L1218.4 522.2L1218.7 517.6L1219.0 512.0L1219.3 503.9L1219.5 495.5L1219.8 489.6L1220.1 490.3L1220.3 498.2L1220.6 511.7L1220.9 523.0L1221.1 527.9L1221.4 532.0L1221.7 531.8L1222.0 522.4L1222.2 510.4L1222.5 503.7L1222.8 503.0L1223.0 503.0L1223.3 504.5L1223.6 508.8L1223.8 508.5L1224.1 504.0L1224.4 500.5L1224.7 498.9L1224.9 498.7L1225.2 501.4L1225.5 511.1L1225.7 524.4L1226.0 530.5L1226.3 526.5L1226.5 517.8L1226.8 509.3L1227.1 503.5L1227.4 501.6L1227.6 501.7L1227.9 502.1L1228.2 507.5L1228.4 516.6L1228.7 520.1L1229.0 516.2L1229.2 509.8L1229.5 508.4L1229.8 512.0L1230.1 511.7L1230.3 507.3L1230.6 504.9L1230.9 504.8L1231.1 505.3L1231.4 508.8L1231.7 512.7L1231.9 510.5L1232.2 506.3L1232.5 507.4L1232.8 511.4L1233.0 517.9L1233.3 525.6L1233.6 523.2L1233.8 511.9L1234.1 506.1L1234.4 509.5L1234.6 515.4L1234.9 521.2L1235.2 526.8L1235.5 528.6L1235.7 525.6L1236.0 518.8L1236.3 511.2L1236.5 506.6L1236.8 505.6L1237.1 503.0L1237.3 497.4L1237.6 499.5L1237.9 512.5L1238.2 521.2L1238.4 518.6L1238.7 511.1L1239.0 503.8L1239.2 501.8L1239.5 505.8L1239.8 513.9L1240.0 525.4L1240.3 536.5L1240.6 538.6L1240.9 525.8L1241.1 509.8L1241.4 503.2L1241.7 505.3L1241.9 514.0L1242.2 523.8L1242.5 525.5L1242.7 519.8L1243.0 511.8L1243.3 505.0L1243.6 502.5L1243.8 505.1L1244.1 508.9L1244.4 509.9L1244.6 512.7L1244.9 517.8L1245.2 518.9L1245.5 518.1L1245.7 519.0L1246.0 519.4L1246.3 516.8L1246.5 515.1L1246.8 515.4L1247.1 511.4L1247.3 502.5L1247.6 499.9L1247.9 506.0L1248.2 512.2L1248.4 514.2L1248.7 512.4L1249.0 509.2L1249.2 508.8L1249.5 511.9L1249.8 515.5L1250.0 517.5L1250.3 518.2L1250.6 516.1L1250.9 516.8L1251.1 522.8L1251.4 523.0L1251.7 516.4L1251.9 508.6L1252.2 501.1L1252.5 493.5L1252.7 490.7L1253.0 495.9L1253.3 506.0L1253.6 516.1L1253.8 524.1L1254.1 528.5L1254.4 526.0L1254.6 518.3L1254.9 511.5L1255.2 504.3L1255.4 498.4L1255.7 498.0L1256.0 498.6L1256.3 499.2L1256.5 504.8L1256.8 513.3L1257.1 519.7L1257.3 522.5L1257.6 521.4L1257.9 517.6L1258.1 515.7L1258.4 515.8L1258.7 511.1L1259.0 505.3L1259.2 503.8L1259.5 503.4L1259.8 503.3L1260.0 507.3L1260.3 513.1L1260.6 514.9L1260.8 515.9L1261.1 515.6L1261.4 514.7L1261.7 514.8L1261.9 515.8L1262.2 519.5L1262.5 518.2L1262.7 506.9L1263.0 493.7L1263.3 488.9L1263.5 496.2L1263.8 507.5L1264.1 514.6L1264.4 513.0L1264.6 506.2L1264.9 505.6L1265.2 512.2L1265.4 519.2L1265.7 522.5L1266.0 522.6L1266.2 517.3L1266.5 507.7L1266.8 501.5L1267.1 503.9L1267.3 512.0L1267.6 516.7L1267.9 518.1L1268.1 517.5L1268.4 512.0L1268.7 507.3L1268.9 503.8L1269.2 496.9L1269.5 493.2L1269.8 500.8L1270.0 513.1L1270.3 524.5L1270.6 534.4L1270.8 535.4L1271.1 525.4L1271.4 511.9L1271.6 499.2L1271.9 489.4L1272.2 484.6L1272.5 483.0L1272.7 489.7L1273.0 504.5L1273.3 518.1L1273.5 528.5L1273.8 531.5L1274.1 523.5L1274.3 510.1L1274.6 502.3L1274.9 505.4L1275.2 514.5L1275.4 522.5L1275.7 523.7L1276.0 515.8L1276.2 506.4L1276.5 502.5L1276.8 501.8L1277.0 503.2L1277.3 505.3L1277.6 509.0L1277.9 512.9L1278.1 513.2L1278.4 513.2L1278.7 513.8L1278.9 512.7L1279.2 510.3L1279.5 510.0L1279.7 513.1L1280.0 516.0L1280.3 517.1L1280.6 518.2L1280.8 519.1L1281.1 519.6L1281.4 518.3L1281.6 515.3L1281.9 513.3L1282.2 512.7L1282.4 513.7L1282.7 518.1L1283.0 525.2L1283.3 532.5L1283.5 534.8L1283.8 527.5L1284.1 514.9L1284.3 503.7L1284.6 496.1L1284.9 492.3L1285.1 492.6L1285.4 495.2L1285.7 498.4L1286.0 504.3L1286.2 513.8L1286.5 523.0L1286.8 527.3L1287.0 527.0L1287.3 520.5L1287.6 510.3L1287.8 504.6L1288.1 506.2L1288.4 514.9L1288.7 522.3L1288.9 522.0L1289.2 516.0L1289.5 506.2L1289.7 498.6L1290.0 498.2L1290.3 505.1L1290.5 514.0L1290.8 519.9L1291.1 522.3L1291.4 521.0L1291.6 518.4L1291.9 515.9L1292.2 512.3L1292.4 507.9L1292.7 505.9L1293.0 509.3L1293.2 516.2L1293.5 518.8L1293.8 518.5L1294.1 516.3L1294.3 509.5L1294.6 506.0L1294.9 509.7L1295.1 513.5L1295.4 515.7L1295.7 519.3L1295.9 523.0L1296.2 523.1L1296.5 521.0L1296.8 519.6L1297.0 516.0L1297.3 514.2" fill="none" stroke="#000" stroke-width="1.1" stroke-linejoin="round"/>
<path d="M325.5 504.2L326.3 504.6L327.1 505.2L327.9 505.4L328.7 504.2L329.5 501.5L330.3 498.1L331.1 495.3L331.9 495.1L332.7 497.8L333.6 501.9L334.4 504.6L335.2 503.7L336.0 501.2L336.8 500.8L337.6 502.5L338.4 504.2L339.2 504.7L340.0 504.8L340.8 505.1L341.7 504.9L342.5 503.4L343.3 500.8L344.1 499.1L344.9 499.7L345.7 500.5L346.5 499.6L347.3 498.8L348.1 499.1L348.9 500.3L349.8 501.7L350.6 501.8L351.4 501.5L352.2 502.4L353.0 502.8L353.8 501.4L354.6 499.7L355.4 500.4L356.2 503.6L357.0 505.7L357.9 503.4L358.7 499.0L359.5 496.6L360.3 495.7L361.1 494.4L361.9 494.3L362.7 496.4L363.5 499.3L364.3 501.3L365.1 502.3L366.0 503.3L366.8 504.6L367.6 505.3L368.4 506.8L369.2 508.9L370.0 508.7L370.8 505.0L371.6 501.3L372.4 500.0L373.2 500.2L374.1 500.5L374.9 500.2L375.7 499.3L376.5 499.2L377.3 500.2L378.1 501.8L378.9 503.6L379.7 504.9L380.5 504.4L381.4 502.5L382.2 502.0L383.0 503.5L383.8 503.5L384.6 501.4L385.4 499.9L386.2 500.8L387.0 502.2L387.8 501.9L388.6 500.8L389.5 500.5L390.3 499.7L391.1 497.8L391.9 497.2L392.7 498.6L393.5 500.8L394.3 502.8L395.1 503.2L395.9 502.0L396.7 502.3L397.6 504.6L398.4 505.5L399.2 503.5L400.0 500.6L400.8 498.8L401.6 499.5L402.4 501.9L403.2 503.1L404.0 502.5L404.8 502.0L405.7 502.3L406.5 503.3L407.3 503.9L408.1 502.8L408.9 501.5L409.7 501.3L410.5 502.2L411.3 502.7L412.1 502.4L412.9 502.3L413.8 502.2L414.6 501.7L415.4 500.2L416.2 498.6L417.0 498.5L417.8 499.5L418.6 501.5L419.4 503.9L420.2 504.8L421.0 504.1L421.9 503.5L422.7 503.5L423.5 503.6L424.3 503.8L425.1 504.9L425.9 505.9L426.7 504.4L427.5 501.6L428.3 499.9L429.1 498.7L430.0 496.9L430.8 495.3L431.6 495.1L432.4 496.9L433.2 499.5L434.0 500.7L434.8 500.8L435.6 500.2L436.4 499.2L437.2 498.8L438.1 499.6L438.9 500.9L439.7 501.9L440.5 502.4L441.3 503.1L442.1 503.4L442.9 502.4L443.7 501.0L444.5 499.5L445.3 498.6L446.2 498.9L447.0 500.4L447.8 502.6L448.6 504.3L449.4 504.6L450.2 504.0L451.0 503.8L451.8 505.3L452.6 507.0L453.4 506.7L454.3 504.9L455.1 503.2L455.9 502.8L456.7 502.9L457.5 502.3L458.3 501.8L459.1 503.1L459.9 504.5L460.7 504.6L461.5 504.2L462.4 503.8L463.2 503.5L464.0 503.6L464.8 503.2L465.6 501.6L466.4 500.9L467.2 502.3L468.0 503.8L468.8 503.9L469.7 503.6L470.5 503.2L471.3 502.5L472.1 502.1L472.9 501.6L473.7 500.3L474.5 499.0L475.3 498.5L476.1 499.0L476.9 500.8L477.8 503.2L478.6 504.0L479.4 502.8L480.2 502.2L481.0 502.5L481.8 501.4L482.6 500.1L483.4 500.7L484.2 502.4L485.0 503.5L485.9 504.0L486.7 503.3L487.5 500.8L488.3 498.8L489.1 500.7L489.9 504.9L490.7 507.2L491.5 507.0L492.3 506.2L493.1 504.8L494.0 501.8L494.8 498.3L495.6 497.1L496.4 498.3L497.2 499.9L498.0 501.0L498.8 502.4L499.6 503.3L500.4 503.0L501.2 502.0L502.1 501.5L502.9 502.2L503.7 504.0L504.5 506.0L505.3 508.2L506.1 508.7L506.9 507.2L507.7 505.7L508.5 505.5L509.3 505.8L510.2 505.4L511.0 504.7L511.8 504.4L512.6 504.2L513.4 503.6L514.2 503.4L515.0 504.3L515.8 504.7L516.6 503.6L517.4 503.2L518.3 503.9L519.1 504.0L519.9 503.8L520.7 504.6L521.5 506.5L522.3 508.0L523.1 507.4L523.9 505.0L524.7 503.1L525.5 502.1L526.4 501.2L527.2 499.5L528.0 498.4L528.8 499.1L529.6 501.4L530.4 503.1L531.2 503.6L532.0 503.3L532.8 503.1L533.6 502.8L534.5 501.7L535.3 501.1L536.1 502.8L536.9 505.9L537.7 507.8L538.5 507.4L539.3 505.8L540.1 503.8L540.9 501.8L541.7 500.6L542.6 501.0L543.4 503.0L544.2 505.8L545.0 507.8L545.8 508.7L546.6 508.6L547.4 507.8L548.2 506.9L549.0 506.3L549.8 504.7L550.7 502.8L551.5 503.8L552.3 506.3L553.1 506.5L553.9 504.4L554.7 502.6L555.5 502.8L556.3 504.7L557.1 507.4L558.0 508.7L558.8 507.1L559.6 504.4L560.4 502.4L561.2 500.6L562.0 499.4L562.8 499.7L563.6 500.8L564.4 502.2L565.2 503.4L566.1 504.2L566.9 503.5L567.7 502.2L568.5 502.8L569.3 505.2L570.1 507.2L570.9 507.7L571.7 507.6L572.5 507.8L573.3 506.9L574.2 504.3L575.0 502.6L575.8 503.1L576.6 504.3L577.4 505.4L578.2 506.4L579.0 507.1L579.8 506.7L580.6 505.1L581.4 503.5L582.3 502.1L583.1 500.9L583.9 501.2L584.7 503.1L585.5 504.0L586.3 502.8L587.1 501.3L587.9 502.2L588.7 505.3L589.5 507.5L590.4 507.2L591.2 506.6L592.0 506.2L592.8 504.9L593.6 504.1L594.4 505.0L595.2 504.8L596.0 503.7L596.8 504.1L597.6 504.4L598.5 503.4L599.3 503.6L600.1 506.3L600.9 508.5L601.7 507.5L602.5 504.4L603.3 502.5L604.1 504.1L604.9 507.5L605.7 508.4L606.6 505.9L607.4 502.8L608.2 500.9L609.0 500.2L609.8 501.0L610.6 503.5L611.4 506.2L612.2 507.3L613.0 506.6L613.8 505.5L614.7 505.0L615.5 505.4L616.3 506.6L617.1 507.7L617.9 507.6L618.7 506.7L619.5 505.7L620.3 503.9L621.1 501.9L621.9 501.7L622.8 503.3L623.6 503.6L624.4 500.7L625.2 497.2L626.0 497.0L626.8 499.0L627.6 500.3L628.4 501.9L629.2 505.4L630.0 508.5L630.9 509.3L631.7 508.4L632.5 506.9L633.3 505.7L634.1 505.1L634.9 504.3L635.7 503.6L636.5 503.6L637.3 502.7L638.1 500.7L639.0 500.7L639.8 502.8L640.6 504.3L641.4 504.8L642.2 505.8L643.0 506.5L643.8 506.0L644.6 505.0L645.4 504.8L646.3 505.2L647.1 505.2L647.9 504.2L648.7 502.6L649.5 502.4L650.3 504.5L651.1 507.9L651.9 509.9L652.7 508.7L653.5 505.9L654.4 503.6L655.2 501.8L656.0 500.6L656.8 501.0L657.6 501.0L658.4 500.5L659.2 501.1L660.0 503.0L660.8 505.7L661.6 507.6L662.5 507.2L663.3 505.6L664.1 505.9L664.9 508.6L665.7 510.8L666.5 509.6L667.3 506.5L668.1 504.2L668.9 503.9L669.7 504.7L670.6 504.1L671.4 502.5L672.2 502.4L673.0 503.5L673.8 503.9L674.6 503.6L675.4 502.8L676.2 501.0L677.0 499.9L677.8 501.4L678.7 504.8L679.5 507.5L680.3 508.4L681.1 507.8L681.9 505.8L682.7 502.5L683.5 499.6L684.3 499.4L685.1 501.6L685.9 502.4L686.8 501.1L687.6 500.8L688.4 502.2L689.2 503.6L690.0 504.5L690.8 504.8L691.6 504.7L692.4 504.8L693.2 505.8L694.0 506.5L694.9 505.4L695.7 503.7L696.5 503.6L697.3 505.8L698.1 507.5L698.9 506.3L699.7 503.7L700.5 501.1L701.3 499.4L702.1 500.3L703.0 503.3L703.8 506.1L704.6 507.6L705.4 508.4L706.2 507.7L707.0 504.8L707.8 502.9L708.6 503.6L709.4 504.0L710.2 502.7L711.1 502.8L711.9 505.4L712.7 507.1L713.5 505.4L714.3 502.8L715.1 502.5L715.9 504.9L716.7 507.8L717.5 508.2L718.3 505.5L719.2 503.0L720.0 503.3L720.8 504.3L721.6 503.2L722.4 501.3L723.2 501.0L724.0 502.4L724.8 504.5L725.6 506.5L726.5 506.2L727.3 504.6L728.1 504.5L728.9 506.6L729.7 508.3L730.5 508.0L731.3 506.5L732.1 504.2L732.9 501.6L733.7 500.4L734.6 501.2L735.4 502.9L736.2 502.9L737.0 502.0L737.8 502.2L738.6 503.4L739.4 503.8L740.2 503.2L741.0 502.9L741.8 503.5L742.7 504.5L743.5 505.1L744.3 505.4L745.1 505.7L745.9 506.5L746.7 506.7L747.5 505.1L748.3 502.7L749.1 501.3L749.9 501.3L750.8 502.1L751.6 502.9L752.4 503.4L753.2 503.2L754.0 503.1L754.8 503.8L755.6 503.6L756.4 502.0L757.2 502.0L758.0 505.0L758.9 507.7L759.7 507.6L760.5 506.4L761.3 505.6L762.1 505.4L762.9 505.6L763.7 505.5L764.5 505.6L765.3 506.5L766.1 507.3L767.0 507.2L767.8 506.7L768.6 506.0L769.4 505.7L770.2 506.8L771.0 507.7L771.8 506.4L772.6 503.8L773.4 501.8L774.2 500.4L775.1 499.0L775.9 498.9L776.7 500.0L777.5 500.9L778.3 501.4L779.1 502.2L779.9 502.1L780.7 501.5L781.5 502.3L782.3 504.5L783.2 505.8L784.0 505.6L784.8 504.7L785.6 504.1L786.4 504.0L787.2 504.2L788.0 504.6L788.8 504.0L789.6 503.4L790.4 504.1L791.3 504.4L792.1 503.3L792.9 502.4L793.7 502.4L794.5 502.3L795.3 502.7L796.1 504.2L796.9 505.5L797.7 505.3L798.5 505.3L799.4 507.1L800.2 508.9L801.0 508.1L801.8 505.5L802.6 504.7L803.4 506.7L804.2 508.2L805.0 508.4L805.8 508.1L806.6 506.9L807.5 505.1L808.3 503.4L809.1 502.0L809.9 501.7L810.7 503.2L811.5 505.1L812.3 505.7L813.1 505.6L813.9 505.1L814.8 503.7L815.6 503.1L816.4 504.8L817.2 507.1L818.0 507.8L818.8 506.5L819.6 503.5L820.4 499.8L821.2 497.9L822.0 498.5L822.9 500.5L823.7 501.7L824.5 502.1L825.3 503.1L826.1 505.5L826.9 507.9L827.7 507.8L828.5 505.3L829.3 503.5L830.1 503.9L831.0 505.0L831.8 505.3L832.6 505.1L833.4 504.2L834.2 502.6L835.0 501.9L835.8 502.1L836.6 502.1L837.4 502.4L838.2 503.4L839.1 504.9L839.9 507.4L840.7 509.3L841.5 509.4L842.3 509.1L843.1 508.5L843.9 506.5L844.7 505.2L845.5 506.7L846.3 509.3L847.2 509.2L848.0 505.5L848.8 502.0L849.6 501.9L850.4 503.9L851.2 504.7L852.0 503.4L852.8 501.6L853.6 501.5L854.4 503.9L855.3 506.4L856.1 506.1L856.9 504.2L857.7 504.1L858.5 505.3L859.3 505.6L860.1 505.7L860.9 506.2L861.7 506.0L862.5 504.7L863.4 503.7L864.2 504.0L865.0 505.4L865.8 507.5L866.6 509.6L867.4 511.0L868.2 511.5L869.0 510.5L869.8 508.1L870.6 506.7L871.5 508.0L872.3 509.5L873.1 508.8L873.9 506.0L874.7 503.3L875.5 502.8L876.3 504.5L877.1 506.3L877.9 506.2L878.7 505.2L879.6 505.8L880.4 507.8L881.2 508.5L882.0 506.6L882.8 504.5L883.6 504.9L884.4 506.5L885.2 507.7L886.0 507.6L886.8 506.9L887.7 507.1L888.5 507.0L889.3 505.1L890.1 503.5L890.9 503.0L891.7 502.2L892.5 502.6L893.3 504.3L894.1 504.8L894.9 504.7L895.8 505.9L896.6 506.9L897.4 506.8L898.2 506.9L899.0 506.5L899.8 504.5L900.6 503.4L901.4 504.9L902.2 507.0L903.1 507.3L903.9 506.7L904.7 506.4L905.5 506.6L906.3 506.8L907.1 506.0L907.9 505.1L908.7 505.4L909.5 506.4L910.3 507.3L911.2 508.7L912.0 510.0L912.8 510.3L913.6 510.4L914.4 510.3L915.2 509.4L916.0 507.7L916.8 507.1L917.6 507.8L918.4 508.7L919.3 508.8L920.1 508.1L920.9 508.3L921.7 509.6L922.5 509.4L923.3 507.2L924.1 505.6L924.9 505.2L925.7 506.2L926.5 507.9L927.4 508.5L928.2 508.0L929.0 508.8L929.8 510.4L930.6 509.8L931.4 507.0L932.2 506.2L933.0 508.5L933.8 510.7L934.6 510.7L935.5 510.2L936.3 510.9L937.1 512.0L937.9 511.7L938.7 510.2L939.5 508.8L940.3 507.9L941.1 507.7L941.9 508.7L942.7 509.4L943.6 509.2L944.4 508.4L945.2 507.1L946.0 506.9L946.8 507.7L947.6 507.4L948.4 506.0L949.2 505.4L950.0 505.9L950.8 506.5L951.7 506.8L952.5 505.9L953.3 503.1L954.1 500.2L954.9 500.2L955.7 502.2L956.5 504.0L957.3 505.6L958.1 507.6L958.9 509.6L959.8 510.4L960.6 509.2L961.4 507.3L962.2 506.1L963.0 506.3L963.8 507.6L964.6 509.6L965.4 510.9L966.2 510.9L967.0 511.7L967.9 513.6L968.7 515.0L969.5 514.1L970.3 511.0L971.1 506.9L971.9 505.7L972.7 509.1L973.5 513.3L974.3 515.2L975.1 515.3L976.0 514.5L976.8 512.4L977.6 509.9L978.4 508.1L979.2 507.9L980.0 509.7L980.8 511.4L981.6 511.0L982.4 508.2L983.2 505.4L984.1 505.5L984.9 508.5L985.7 511.5L986.5 512.6L987.3 512.2L988.1 512.0L988.9 511.5L989.7 510.3L990.5 510.1L991.4 511.2L992.2 511.5L993.0 510.2L993.8 509.1L994.6 508.5L995.4 507.0L996.2 505.8L997.0 506.5L997.8 508.5L998.6 510.8L999.5 513.6L1000.3 515.4L1001.1 513.8L1001.9 510.2L1002.7 508.4L1003.5 510.1L1004.3 512.8L1005.1 513.3L1005.9 511.0L1006.7 508.5L1007.6 507.1L1008.4 506.0L1009.2 505.6L1010.0 506.7L1010.8 507.5L1011.6 506.1L1012.4 504.4L1013.2 504.9L1014.0 507.7L1014.8 510.4L1015.7 511.2L1016.5 511.6L1017.3 512.3L1018.1 511.2L1018.9 508.5L1019.7 507.5L1020.5 509.0L1021.3 510.6L1022.1 511.7L1022.9 512.6L1023.8 512.7L1024.6 511.6L1025.4 510.7L1026.2 511.2L1027.0 512.5L1027.8 513.8L1028.6 514.2L1029.4 512.9L1030.2 512.2L1031.0 513.0L1031.9 512.1L1032.7 509.7L1033.5 509.5L1034.3 511.6L1035.1 512.1L1035.9 509.3L1036.7 506.2L1037.5 505.9L1038.3 508.5L1039.1 511.7L1040.0 512.9L1040.8 511.3L1041.6 509.9L1042.4 510.5L1043.2 510.5L1044.0 509.1L1044.8 508.2L1045.6 508.2L1046.4 509.3L1047.2 511.2L1048.1 512.2L1048.9 511.6L1049.7 511.3L1050.5 512.0L1051.3 513.6L1052.1 515.6L1052.9 516.8L1053.7 515.3L1054.5 511.4L1055.3 508.6L1056.2 508.3L1057.0 509.2L1057.8 510.5L1058.6 510.9L1059.4 509.7L1060.2 508.6L1061.0 508.6L1061.8 508.7L1062.6 508.5L1063.4 508.5L1064.3 509.4L1065.1 510.3L1065.9 510.3L1066.7 510.5L1067.5 510.4L1068.3 509.4L1069.1 508.5L1069.9 509.1L1070.7 510.6L1071.6 510.9L1072.4 509.4L1073.2 508.0L1074.0 507.5L1074.8 507.7L1075.6 508.5L1076.4 509.9L1077.2 510.7L1078.0 510.3L1078.8 510.2L1079.7 511.7L1080.5 513.1L1081.3 512.4L1082.1 509.8L1082.9 507.6L1083.7 507.8L1084.5 510.1L1085.3 511.8L1086.1 511.3L1086.9 509.7L1087.8 508.8L1088.6 509.7L1089.4 510.6L1090.2 509.4L1091.0 507.2L1091.8 507.3L1092.6 510.3L1093.4 512.3L1094.2 511.5L1095.0 509.9L1095.9 509.6L1096.7 508.9L1097.5 506.2L1098.3 504.1L1099.1 505.9L1099.9 511.8L1100.7 517.4L1101.5 517.6L1102.3 513.1L1103.1 509.4L1104.0 509.1L1104.8 510.0L1105.6 510.1L1106.4 510.2L1107.2 512.8L1108.0 517.6L1108.8 519.5L1109.6 515.3L1110.4 508.5L1111.2 503.6L1112.1 501.7L1112.9 503.0L1113.7 507.1L1114.5 513.2L1115.3 518.6L1116.1 520.3L1116.9 517.3L1117.7 511.1L1118.5 505.2L1119.3 503.4L1120.2 506.4L1121.0 511.4L1121.8 515.9L1122.6 518.0L1123.4 517.1L1124.2 513.8L1125.0 508.5L1125.8 503.1L1126.6 500.7L1127.4 503.6L1128.3 509.7L1129.1 515.1L1129.9 518.0L1130.7 517.5L1131.5 514.1L1132.3 509.0L1133.1 503.2L1133.9 499.9L1134.7 502.6L1135.5 508.4L1136.4 512.9L1137.2 514.9L1138.0 514.8L1138.8 512.2L1139.6 508.4L1140.4 506.0L1141.2 505.7L1142.0 507.4L1142.8 511.4L1143.6 516.4L1144.5 519.2L1145.3 518.9L1146.1 517.0L1146.9 514.1L1147.7 510.4L1148.5 507.4L1149.3 505.8L1150.1 506.4L1150.9 510.2L1151.7 513.9L1152.6 514.4L1153.4 513.1L1154.2 511.9L1155.0 510.1L1155.8 506.8L1156.6 504.6L1157.4 506.5L1158.2 510.9L1159.0 514.0L1159.9 513.5L1160.7 511.7L1161.5 511.2L1162.3 511.3L1163.1 510.3L1163.9 510.1L1164.7 512.0L1165.5 513.3L1166.3 511.4L1167.1 508.2L1168.0 506.7L1168.8 507.2L1169.6 508.9L1170.4 511.3L1171.2 513.4L1172.0 514.8L1172.8 515.1L1173.6 514.4L1174.4 512.8L1175.2 510.7L1176.1 508.7L1176.9 507.2L1177.7 507.7L1178.5 510.7L1179.3 514.6L1180.1 517.0L1180.9 516.8L1181.7 514.5L1182.5 511.8L1183.3 510.2L1184.2 510.0L1185.0 511.0L1185.8 512.5L1186.6 513.4L1187.4 514.6L1188.2 515.2L1189.0 513.5L1189.8 510.6L1190.6 508.9L1191.4 509.0L1192.3 510.3L1193.1 512.0L1193.9 513.4L1194.7 514.4L1195.5 515.2L1196.3 515.0L1197.1 513.9L1197.9 512.4L1198.7 510.7L1199.5 508.6L1200.4 507.5L1201.2 509.2L1202.0 511.7L1202.8 512.3L1203.6 511.5L1204.4 510.4L1205.2 509.3L1206.0 508.3L1206.8 509.1L1207.6 510.9L1208.5 510.3L1209.3 507.4L1210.1 505.3L1210.9 506.1L1211.7 510.0L1212.5 514.4L1213.3 515.9L1214.1 513.5L1214.9 510.0L1215.7 508.0L1216.6 508.5L1217.4 510.8L1218.2 513.1L1219.0 514.5L1219.8 514.9L1220.6 513.7L1221.4 511.8L1222.2 510.5L1223.0 509.3L1223.8 508.5L1224.7 509.1L1225.5 510.4L1226.3 510.6L1227.1 510.0L1227.9 509.6L1228.7 509.7L1229.5 510.2L1230.3 510.8L1231.1 511.1L1231.9 511.7L1232.8 513.3L1233.6 514.8L1234.4 515.1L1235.2 513.6L1236.0 511.7L1236.8 511.1L1237.6 512.4L1238.4 514.3L1239.2 515.2L1240.0 515.0L1240.9 514.3L1241.7 514.5L1242.5 516.0L1243.3 517.4L1244.1 516.8L1244.9 514.6L1245.7 511.9L1246.5 510.4L1247.3 511.0L1248.2 512.4L1249.0 512.9L1249.8 512.8L1250.6 512.7L1251.4 512.0L1252.2 510.5L1253.0 509.3L1253.8 509.3L1254.6 509.4L1255.4 509.7L1256.3 510.6L1257.1 511.0L1257.9 511.2L1258.7 511.7L1259.5 511.8L1260.3 511.7L1261.1 511.6L1261.9 511.5L1262.7 510.8L1263.5 509.6L1264.4 509.3L1265.2 511.0L1266.0 513.1L1266.8 513.0L1267.6 510.8L1268.4 508.5L1269.2 508.2L1270.0 509.4L1270.8 510.1L1271.6 509.2L1272.5 508.0L1273.3 508.7L1274.1 511.5L1274.9 513.5L1275.7 513.4L1276.5 512.4L1277.3 511.8L1278.1 511.2L1278.9 510.9L1279.7 512.4L1280.6 515.2L1281.4 516.7L1282.2 517.0L1283.0 516.1L1283.8 513.0L1284.6 510.3L1285.4 510.8L1286.2 512.5L1287.0 512.5L1287.8 511.8L1288.7 511.6L1289.5 512.3L1290.3 513.2L1291.1 513.3L1291.9 513.0L1292.7 513.7L1293.5 514.8L1294.3 514.8L1295.1 514.1L1295.9 514.1L1296.8 514.9" fill="none" stroke="#c8c800" stroke-width="2.0" stroke-linejoin="round"/>
<path d="M332.5 705.4L413.0 704.9L600.0 704.5L800.0 704.3L1000.0 704.4L1230.0 704.8L1303.2 704.8" fill="none" stroke="#ff0000" stroke-width="4.3" stroke-linecap="round" stroke-linejoin="round"/>
<path d="M325.4 731.3L326.6 745.1L328.2 753.3L330.2 749.3L331.8 739.1L333.0 734.3L335.1 736.4L336.9 743.9L338.1 746.9L339.9 749.3L342.9 756.0L345.9 763.2L349.5 767.7L351.6 768.0L353.7 766.2L356.1 765.0L358.0 760.8L361.0 745.1L363.4 730.1L365.8 728.0L368.8 733.1L371.8 738.9L373.6 739.1L375.4 736.7L377.6 737.9L379.0 744.5L381.2 763.2L383.6 781.0L385.4 777.0L387.5 762.0L389.6 743.9L391.7 751.1L393.3 770.4L395.3 781.0L396.7 777.7L398.9 746.3L401.0 724.6L403.1 727.7L404.3 739.1L405.9 749.9L408.2 747.3L411.0 728.5L413.0 729.5L414.6 742.7L416.4 757.2L417.6 765.0L419.0 768.6L421.2 763.8L423.6 753.6L425.8 754.2L428.4 760.8L430.6 765.4L432.0 764.4L433.9 760.8L436.3 752.3L438.1 750.5L440.5 750.9L441.9 750.5L443.5 747.5L445.9 737.9L448.3 729.7L449.9 730.4L452.2 739.1L453.7 753.6L454.9 763.2L456.7 765.0L459.2 749.9L461.0 748.7L464.0 766.8L466.1 772.8L468.2 766.8L470.6 736.7L472.7 724.4L474.2 726.4L476.6 741.5L479.0 751.1L481.4 755.4L483.9 765.0L486.0 768.6L487.5 763.8L489.9 736.7L491.7 726.1L492.9 727.7L494.9 739.1L496.9 748.7L498.9 745.1L500.1 739.1L501.7 736.7L504.1 745.1L506.4 763.8L508.6 767.4L510.4 760.8L512.8 741.5L514.6 737.9L517.0 747.5L519.2 772.2L521.3 774.6L523.4 754.8L525.6 739.7L527.0 740.3L528.9 751.1L530.7 763.8L532.8 763.0L535.2 737.9L537.5 733.3L539.1 740.9L540.5 748.7L542.7 754.2L545.7 758.4L548.5 763.4L550.5 761.4L553.0 752.6L554.8 753.3L556.9 754.5L558.6 749.9L561.4 733.1L563.4 729.7L565.0 734.9L566.8 743.9L569.2 752.6L571.0 751.7L573.1 751.1L575.8 753.8L578.3 756.3L580.7 756.3L583.1 756.9L585.5 759.8L587.3 761.7L589.7 760.2L591.5 755.4L593.9 746.3L595.7 743.0L597.2 743.3L598.7 745.7L600.5 747.3L602.3 745.7L603.9 744.6L605.6 746.6L607.5 749.0L609.0 747.5L610.8 740.9L612.0 735.7L613.4 738.1L615.6 751.1L617.0 769.2L618.3 779.5L620.4 782.2L622.2 768.0L624.0 753.6L625.8 740.3L628.3 738.5L630.7 735.5L633.1 733.7L634.3 734.9L636.7 741.5L639.1 753.6L641.3 759.6L643.0 766.8L644.2 768.9L646.0 766.8L647.5 759.6L649.0 753.0L651.1 747.5L653.0 745.7L655.4 744.8L657.8 743.0L659.6 742.1L661.1 743.0L663.0 746.6L665.0 757.2L667.4 758.0L669.8 749.9L671.6 743.9L673.2 737.3L675.0 736.7L677.0 743.3L678.5 751.7L680.3 757.2L681.9 754.8L683.1 748.7L684.9 743.9L686.7 748.1L688.5 759.6L689.9 772.8L691.1 781.0L693.1 779.5L694.5 768.0L696.3 746.3L697.9 731.9L699.3 729.2L700.5 739.1L702.3 752.3L704.2 765.4L706.2 763.2L707.8 749.9L709.0 740.3L711.0 737.7L712.6 745.1L714.4 753.6L715.7 756.6L717.2 751.1L718.8 741.5L720.2 733.1L722.0 734.3L723.9 745.1L725.1 757.2L726.6 769.8L728.9 771.6L730.5 763.2L732.3 752.3L734.1 743.9L736.3 741.5L738.3 742.5L740.1 746.3L741.6 751.7L743.1 753.9L744.9 751.1L746.1 745.7L747.6 741.7L749.8 745.7L751.2 753.6L752.8 760.5L754.8 759.6L756.4 748.7L757.8 739.1L759.4 735.2L760.8 740.3L762.4 752.3L764.0 766.8L765.4 771.4L767.6 763.8L769.0 749.9L770.6 739.1L772.0 735.7L773.3 739.7L775.1 752.3L776.9 763.8L778.4 766.2L780.1 762.0L781.9 757.2L783.7 755.4L785.7 753.3L787.7 748.7L789.8 740.9L791.9 737.5L793.7 738.5L795.5 742.1L797.0 745.1L798.6 751.1L800.0 756.2L801.8 758.4L803.4 757.2L804.9 755.4L806.4 755.4L808.2 754.2L809.8 750.5L811.2 745.1L812.7 744.8L814.2 752.3L815.8 763.2L817.8 770.4L819.6 768.6L821.4 757.2L823.9 743.7L825.7 745.7L827.5 752.3L829.0 758.0L830.8 758.0L832.3 753.6L834.1 743.9L835.5 740.1L837.3 738.5L838.9 743.9L840.7 752.3L842.2 759.6L843.7 763.2L845.2 762.6L846.7 758.4L848.6 756.0L850.0 758.4L851.2 763.8L853.4 765.0L854.9 758.4L856.4 747.5L858.0 739.1L859.6 736.1L861.8 740.3L863.6 748.7L865.4 754.8L867.6 760.8L869.9 761.7L871.4 754.8L872.9 748.7L874.5 746.9L875.9 753.6L877.5 763.2L879.3 767.4L880.8 760.8L882.3 748.7L883.9 739.1L885.5 736.1L887.7 739.1L889.5 742.1L891.3 742.5L893.4 743.3L895.5 746.3L897.1 749.0L899.2 746.6L901.6 736.1L903.4 734.3L905.4 740.3L907.6 753.6L909.4 762.6L911.0 766.8L912.8 768.6L915.2 769.8L917.7 772.2L919.7 773.1L921.9 766.8L923.1 753.6L924.3 737.9L926.1 727.7L927.9 727.3L929.7 733.1L931.5 740.3L933.0 747.5L934.5 753.0L936.3 754.2L937.8 749.9L939.3 743.3L940.9 739.7L942.3 748.7L943.8 760.8L945.4 773.1L947.4 773.7L949.0 764.4L950.2 756.0L952.2 751.1L953.8 753.0L955.4 757.2L957.0 758.6L958.9 755.4L960.7 750.5L962.8 746.0L965.2 744.3L967.7 740.3L970.1 739.7L971.9 745.1L973.4 751.1L974.9 758.4L976.3 762.8L978.3 764.2L980.3 765.6L982.1 768.6L983.3 770.2L984.8 769.2L986.3 763.2L988.1 756.0L989.3 754.2L991.1 755.7L993.0 757.4L994.4 756.6L996.0 753.6L997.5 746.9L999.2 741.5L1000.8 739.9L1002.6 742.7L1005.0 745.7L1006.8 743.9L1008.6 741.7L1010.4 743.3L1012.0 748.7L1013.7 756.0L1015.2 763.0L1017.3 763.6L1018.9 758.4L1020.1 753.8L1021.9 752.6L1023.4 756.6L1025.1 761.4L1026.9 763.2L1028.5 757.8L1030.1 749.9L1031.5 742.5L1033.0 741.3L1034.5 745.7L1036.3 753.0L1037.5 755.0L1039.3 753.3L1041.1 750.8L1043.0 750.7L1044.8 754.2L1046.3 757.8L1048.0 759.9L1049.6 757.4L1051.0 753.6L1052.6 747.5L1054.2 746.1L1056.0 749.9L1057.4 756.6L1059.2 763.2L1061.0 766.6L1062.6 765.4L1064.3 761.4L1066.4 756.9L1068.3 754.8L1070.1 752.7L1071.9 748.1L1073.7 744.5L1075.2 743.3L1077.3 745.7L1078.7 751.7L1080.3 757.2L1082.1 754.8L1083.3 745.1L1084.8 734.3L1086.7 736.1L1088.1 749.9L1089.9 764.4L1091.5 770.2L1093.0 765.6L1094.5 753.6L1096.2 741.5L1097.8 735.7L1099.6 737.9L1101.1 747.5L1102.8 756.0L1104.8 759.6L1106.0 752.3L1107.5 743.9L1109.0 738.1L1110.6 742.7L1112.0 752.3L1113.9 762.6L1115.7 763.8L1117.5 757.2L1119.0 750.5L1120.5 747.3L1122.3 744.9L1123.9 743.3L1125.5 744.2L1127.1 750.5L1128.9 757.2L1130.4 760.5L1131.9 755.4L1133.5 749.9L1135.2 746.7L1136.7 749.9L1138.3 754.8L1140.0 759.0L1141.6 759.3L1143.1 756.6L1144.8 751.5L1146.7 749.3L1148.2 751.7L1149.6 756.9L1151.6 758.4L1153.0 751.1L1154.5 741.5L1156.0 731.3L1157.8 734.9L1159.4 746.3L1161.1 757.8L1162.7 760.2L1164.2 752.3L1165.7 744.3L1167.5 746.9L1168.9 756.0L1170.5 771.0L1172.7 776.2L1174.1 765.6L1175.5 752.3L1177.1 744.5L1178.9 745.7L1180.5 750.5L1182.2 753.6L1183.7 748.7L1185.3 742.7L1187.0 736.7L1188.8 740.9L1190.4 752.3L1191.9 765.6L1193.4 771.6L1195.4 766.2L1196.7 756.0L1198.6 749.1L1200.2 750.5L1201.8 753.0L1203.4 755.4L1204.8 748.7L1206.6 739.7L1208.2 734.9L1209.9 739.7L1211.4 748.7L1212.9 757.8L1214.5 761.1L1216.3 756.0L1217.8 750.5L1219.5 749.1L1221.1 750.5L1222.7 751.7L1224.3 749.9L1225.9 745.1L1227.5 742.7L1229.2 744.5L1230.7 751.1L1232.5 757.8L1234.1 759.6L1235.9 755.4L1237.3 751.7L1238.9 750.5L1240.6 757.2L1242.2 764.4L1243.6 772.8L1245.2 778.3L1247.2 778.5L1248.8 771.6L1250.6 763.2L1252.0 749.9L1253.3 738.5L1255.2 730.1L1256.9 734.3L1258.4 745.1L1260.0 755.4L1261.7 757.8L1263.3 753.6L1264.8 750.9L1266.3 756.0L1268.1 762.6L1269.9 763.2L1271.3 753.6L1272.9 741.5L1274.3 730.4L1276.3 727.3L1278.0 734.3L1279.5 742.7L1281.3 749.3L1283.1 754.2L1284.7 757.8L1286.1 764.4L1287.6 770.4L1289.5 770.1L1291.0 760.8L1292.4 749.9L1294.0 743.9L1295.4 743.3" fill="none" stroke="#bebebe" stroke-width="1.8" stroke-linejoin="miter"/>
<path d="M1135.4 638.9H1297.4" stroke="#bebebe" stroke-width="4.6" fill="none"/>
<path d="M1135.4 631.9v14M1296.9 631.9v14" stroke="#bebebe" stroke-width="4.6" fill="none"/>
<path d="M211.9 427.4V585.8M204.9 427.4h14M204.9 585.8h14" stroke="#bebebe" stroke-width="2.1" fill="none"/>
<circle cx="211.9" cy="506.6" r="4.2" fill="#000"/>
<text transform="translate(243.8 506.5) rotate(-90)" text-anchor="middle" font-size="24.1">Typical noise level</text>
<g font-size="27.6">
<text x="142.1" y="912.6" text-anchor="end">-100</text>
<text x="142.1" y="833.4" text-anchor="end">-80</text>
<text x="142.1" y="754.2" text-anchor="end">-60</text>
<text x="142.1" y="675.0" text-anchor="end">-40</text>
<text x="142.1" y="595.8" text-anchor="end">-20</text>
<text x="142.1" y="516.6" text-anchor="end">0</text>
<text x="142.1" y="437.4" text-anchor="end">20</text>
<text x="142.1" y="358.1" text-anchor="end">40</text>
<text x="142.1" y="278.9" text-anchor="end">60</text>
<text x="142.1" y="199.7" text-anchor="end">80</text>
<text x="142.1" y="120.5" text-anchor="end">100</text>
<text x="163.3" y="944.3" text-anchor="middle">-10</text>
<text x="325.3" y="944.3" text-anchor="middle">0</text>
<text x="487.3" y="944.3" text-anchor="middle">10</text>
<text x="649.4" y="944.3" text-anchor="middle">20</text>
<text x="811.4" y="944.3" text-anchor="middle">30</text>
<text x="973.4" y="944.3" text-anchor="middle">40</text>
<text x="1135.4" y="944.3" text-anchor="middle">50</text>
<text x="1297.4" y="944.3" text-anchor="middle">60</text>
<text x="1459.5" y="944.3" text-anchor="middle">70</text>
<text x="1541.8" y="437.4" text-anchor="end">998</text>
<text x="1541.8" y="357.9" text-anchor="end">1000</text>
<text x="1541.8" y="278.3" text-anchor="end">1002</text>
<text x="1541.8" y="198.8" text-anchor="end">1004</text>
<text x="1551" y="912.6" text-anchor="end">-1500</text>
<text x="1551" y="846.6" text-anchor="end">-1000</text>
<text x="1551" y="780.6" text-anchor="end">-500</text>
<text x="1551" y="714.6" text-anchor="end">0</text>
<text x="1551" y="648.6" text-anchor="end">500</text>
<text x="1551" y="582.6" text-anchor="end">1000</text>
</g>
<text x="810.9" y="1005.4" text-anchor="middle" font-size="48.1">Time [min] from 2025-08-29 18:01:00 UTC</text>
<text transform="translate(59 507.4) rotate(-90)" text-anchor="middle" font-size="48.1">Obs’d Gravity [nm/s<tspan dy="-17" font-size="33.7">2</tspan><tspan dy="17">]</tspan></text>
<text transform="translate(1604 308.8) rotate(-90)" text-anchor="middle" font-size="48.1">Pressure [hPa]</text>
<text transform="translate(1613.4 703.4) rotate(-90)" text-anchor="middle" font-size="48.1">Tide [nm/s<tspan dy="-17" font-size="33.7">2</tspan><tspan dy="17">]</tspan></text>
<text transform="translate(1386.5 308.0) rotate(-90)" text-anchor="middle" font-size="24.1">1 DIV = 1 hPa/h</text>
<text transform="translate(1427.5 308.7) rotate(-90)" text-anchor="middle" font-size="24.1">average = 0.6547</text>
<g font-weight="bold">
<text x="1432.6" y="82.1" text-anchor="end" font-size="32.3">SCG_054 gravimeter Onsala Space Observatory, Sweden</text>
<text x="192.2" y="888" font-size="27.9">The latest 1-hour, 1-second sampling</text>
<text x="1430" y="887.8" text-anchor="end" font-size="27.9">End at 2025-08-29 19:00:59 UTC</text>
<text x="1315" y="153.6" text-anchor="end" font-size="24.1">Stand-in barom. 20m</text>
</g>
<rect x="167.05" y="18.5" width="372.4" height="162.8" fill="#fff" stroke="#000" stroke-width="0.55"/>
<path d="M204.1 39.5H260" stroke="#0000ff" stroke-width="0.7"/><circle cx="232.2" cy="39.5" r="4.4" fill="#0000ff"/>
<path d="M204.1 69.5H260" stroke="#00c8c8" stroke-width="0.7"/><circle cx="232.2" cy="69.5" r="4.4" fill="#00c8c8"/>
<path d="M204.1 100.15H260" stroke="#000" stroke-width="2.9"/>
<path d="M204.1 130.45H260" stroke="#bebebe" stroke-width="2.9"/>
<path d="M204.1 161.5H260" stroke="#ff0000" stroke-width="0.7"/><circle cx="232.2" cy="161.5" r="4.4" fill="#ff0000"/>
<g font-size="24.1">
<text x="279.5" y="47.4">Pressure</text>
<text x="279.5" y="78.0">dP/dt</text>
<text x="279.5" y="108.7">Residual</text>
<text x="279.5" y="139.2">... last 10 min.</text>
<text x="279.5" y="169.8">Theor.Tide</text>
</g>
</svg></body></html>
